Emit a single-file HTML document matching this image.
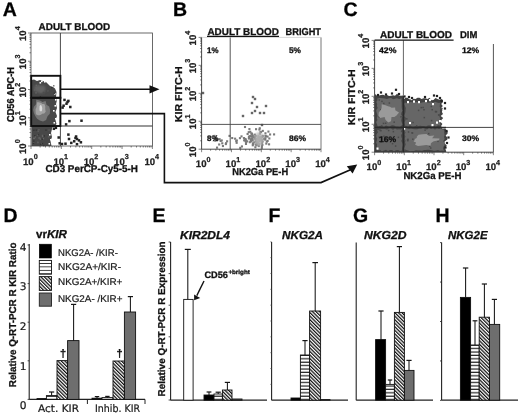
<!DOCTYPE html>
<html><head><meta charset="utf-8"><title>Figure</title>
<style>html,body{margin:0;padding:0;background:#fff}svg{display:block}text{text-rendering:geometricPrecision}</style></head>
<body>
<svg width="520" height="415" viewBox="0 0 520 415" font-family='"Liberation Sans", Arial, sans-serif'>
<defs>
<filter id="b1" x="-20%" y="-20%" width="140%" height="140%"><feGaussianBlur stdDeviation="0.9"/></filter>
<filter id="b2" x="-20%" y="-20%" width="140%" height="140%"><feGaussianBlur stdDeviation="0.5"/></filter>
<pattern id="hat" width="2.5" height="2.5" patternUnits="userSpaceOnUse" patternTransform="rotate(-45)"><rect width="2.5" height="2.5" fill="#fff"/><rect width="1.25" height="2.5" fill="#111"/></pattern>
<pattern id="str" x="0" y="400.2" width="3" height="3.4" patternUnits="userSpaceOnUse"><rect width="3" height="3.4" fill="#fff"/><rect y="2.2" width="3" height="1.2" fill="#222"/></pattern>
<pattern id="str2" x="0" y="260.4" width="3" height="3.45" patternUnits="userSpaceOnUse"><rect width="3" height="3.45" fill="#fff"/><rect y="2.6" width="3" height="0.95" fill="#222"/></pattern>
</defs>
<rect width="520" height="415" fill="#fff"/>
<text x="2.8" y="16.2" font-size="19.5" font-weight="bold" text-anchor="start" fill="#000" stroke="#111" stroke-width="0.3" >A</text>
<text x="173" y="16.2" font-size="19.5" font-weight="bold" text-anchor="start" fill="#000" stroke="#111" stroke-width="0.3" >B</text>
<text x="343.5" y="16.4" font-size="19.5" font-weight="bold" text-anchor="start" fill="#000" stroke="#111" stroke-width="0.3" >C</text>
<text x="3.5" y="221.5" font-size="19.5" font-weight="bold" text-anchor="start" fill="#000" stroke="#111" stroke-width="0.3" >D</text>
<text x="152.6" y="221.5" font-size="19.5" font-weight="bold" text-anchor="start" fill="#000" stroke="#111" stroke-width="0.3" >E</text>
<text x="268.4" y="221.5" font-size="19.5" font-weight="bold" text-anchor="start" fill="#000" stroke="#111" stroke-width="0.3" >F</text>
<text x="353" y="221.5" font-size="19.5" font-weight="bold" text-anchor="start" fill="#000" stroke="#111" stroke-width="0.3" >G</text>
<text x="435.5" y="221.5" font-size="19.5" font-weight="bold" text-anchor="start" fill="#000" stroke="#111" stroke-width="0.3" >H</text>
<g>
<polygon points="31.5,146 31.5,80 34,79.5 37,81 40,80 43,81 46,82 48,84 50,86 53,87 55,88.5 56.5,92 56,97 57,100 56,104 57,108 55.5,112 57,116 55.5,120 56.5,124 54,127 52,129 51,133 52,137 50.5,141 51.5,146" fill="#484848"/>
<rect x="41.00" y="80.50" width="1.60" height="1.60" fill="#fff" stroke="none" stroke-width="1" />
<rect x="44.00" y="81.00" width="1.60" height="1.60" fill="#fff" stroke="none" stroke-width="1" />
<rect x="39.50" y="82.00" width="1.60" height="1.60" fill="#fff" stroke="none" stroke-width="1" />
<rect x="55.00" y="99.00" width="1.60" height="1.60" fill="#fff" stroke="none" stroke-width="1" />
<rect x="54.50" y="105.00" width="1.60" height="1.60" fill="#fff" stroke="none" stroke-width="1" />
<rect x="53.00" y="110.00" width="1.60" height="1.60" fill="#fff" stroke="none" stroke-width="1" />
<rect x="55.00" y="118.00" width="1.60" height="1.60" fill="#fff" stroke="none" stroke-width="1" />
<rect x="53.50" y="122.00" width="1.60" height="1.60" fill="#fff" stroke="none" stroke-width="1" />
<rect x="52.00" y="127.50" width="1.60" height="1.60" fill="#fff" stroke="none" stroke-width="1" />
<rect x="49.00" y="134.00" width="1.60" height="1.60" fill="#fff" stroke="none" stroke-width="1" />
<rect x="50.00" y="139.00" width="1.60" height="1.60" fill="#fff" stroke="none" stroke-width="1" />
<rect x="48.50" y="143.00" width="1.60" height="1.60" fill="#fff" stroke="none" stroke-width="1" />
<rect x="54.00" y="93.00" width="1.60" height="1.60" fill="#fff" stroke="none" stroke-width="1" />
<rect x="37.51" y="130.56" width="1.40" height="1.40" fill="#5c5c5c" stroke="none" stroke-width="1" />
<rect x="32.82" y="141.96" width="1.40" height="1.40" fill="#666" stroke="none" stroke-width="1" />
<rect x="38.22" y="128.99" width="1.40" height="1.40" fill="#5c5c5c" stroke="none" stroke-width="1" />
<rect x="35.65" y="129.46" width="1.40" height="1.40" fill="#333" stroke="none" stroke-width="1" />
<rect x="33.19" y="129.54" width="1.40" height="1.40" fill="#333" stroke="none" stroke-width="1" />
<rect x="33.00" y="137.61" width="1.40" height="1.40" fill="#666" stroke="none" stroke-width="1" />
<rect x="42.72" y="137.91" width="1.40" height="1.40" fill="#666" stroke="none" stroke-width="1" />
<rect x="41.81" y="134.74" width="1.40" height="1.40" fill="#666" stroke="none" stroke-width="1" />
<rect x="32.79" y="142.59" width="1.40" height="1.40" fill="#333" stroke="none" stroke-width="1" />
<rect x="39.13" y="137.19" width="1.40" height="1.40" fill="#5c5c5c" stroke="none" stroke-width="1" />
<rect x="37.24" y="141.87" width="1.40" height="1.40" fill="#666" stroke="none" stroke-width="1" />
<rect x="33.75" y="137.71" width="1.40" height="1.40" fill="#666" stroke="none" stroke-width="1" />
<rect x="38.33" y="137.31" width="1.40" height="1.40" fill="#666" stroke="none" stroke-width="1" />
<rect x="41.59" y="138.52" width="1.40" height="1.40" fill="#333" stroke="none" stroke-width="1" />
<rect x="43.57" y="135.27" width="1.40" height="1.40" fill="#333" stroke="none" stroke-width="1" />
<rect x="39.92" y="143.70" width="1.40" height="1.40" fill="#333" stroke="none" stroke-width="1" />
<rect x="37.10" y="141.50" width="1.40" height="1.40" fill="#5c5c5c" stroke="none" stroke-width="1" />
<rect x="45.26" y="129.39" width="1.40" height="1.40" fill="#333" stroke="none" stroke-width="1" />
<rect x="40.93" y="142.88" width="1.40" height="1.40" fill="#5c5c5c" stroke="none" stroke-width="1" />
<rect x="39.63" y="138.35" width="1.40" height="1.40" fill="#666" stroke="none" stroke-width="1" />
<rect x="34.01" y="135.11" width="1.40" height="1.40" fill="#333" stroke="none" stroke-width="1" />
<rect x="34.58" y="136.31" width="1.40" height="1.40" fill="#666" stroke="none" stroke-width="1" />
<rect x="48.35" y="129.32" width="1.40" height="1.40" fill="#5c5c5c" stroke="none" stroke-width="1" />
<rect x="41.74" y="142.88" width="1.40" height="1.40" fill="#333" stroke="none" stroke-width="1" />
<rect x="37.78" y="133.95" width="1.40" height="1.40" fill="#333" stroke="none" stroke-width="1" />
<rect x="41.86" y="135.76" width="1.40" height="1.40" fill="#666" stroke="none" stroke-width="1" />
<rect x="48.06" y="136.06" width="1.40" height="1.40" fill="#5c5c5c" stroke="none" stroke-width="1" />
<rect x="33.10" y="140.43" width="1.40" height="1.40" fill="#333" stroke="none" stroke-width="1" />
<rect x="43.00" y="144.88" width="1.40" height="1.40" fill="#333" stroke="none" stroke-width="1" />
<rect x="36.84" y="134.56" width="1.40" height="1.40" fill="#5c5c5c" stroke="none" stroke-width="1" />
<rect x="39.63" y="96.17" width="1.40" height="1.40" fill="#333" stroke="none" stroke-width="1" />
<rect x="35.70" y="84.64" width="1.40" height="1.40" fill="#666" stroke="none" stroke-width="1" />
<rect x="36.80" y="87.02" width="1.40" height="1.40" fill="#5c5c5c" stroke="none" stroke-width="1" />
<rect x="37.45" y="88.47" width="1.40" height="1.40" fill="#333" stroke="none" stroke-width="1" />
<rect x="33.77" y="89.29" width="1.40" height="1.40" fill="#5c5c5c" stroke="none" stroke-width="1" />
<rect x="38.11" y="84.92" width="1.40" height="1.40" fill="#333" stroke="none" stroke-width="1" />
<rect x="51.01" y="86.90" width="1.40" height="1.40" fill="#333" stroke="none" stroke-width="1" />
<rect x="53.70" y="92.56" width="1.40" height="1.40" fill="#333" stroke="none" stroke-width="1" />
<rect x="53.07" y="85.11" width="1.40" height="1.40" fill="#666" stroke="none" stroke-width="1" />
<rect x="35.33" y="92.22" width="1.40" height="1.40" fill="#666" stroke="none" stroke-width="1" />
<rect x="42.67" y="91.25" width="1.40" height="1.40" fill="#333" stroke="none" stroke-width="1" />
<rect x="38.20" y="85.04" width="1.40" height="1.40" fill="#5c5c5c" stroke="none" stroke-width="1" />
<rect x="40.12" y="90.93" width="1.40" height="1.40" fill="#666" stroke="none" stroke-width="1" />
<rect x="47.19" y="90.22" width="1.40" height="1.40" fill="#5c5c5c" stroke="none" stroke-width="1" />
<path d="M50.1,110.0 L49.8,113.7 L47.5,116.2 L46.1,119.9 L43.0,121.6 L39.8,120.4 L37.1,118.7 L35.3,116.0 L34.0,113.2 L33.2,110.0 L33.9,106.8 L35.9,104.6 L36.3,99.7 L39.9,100.6 L42.5,102.0 L45.6,101.1 L46.5,104.8 L49.2,106.5Z" fill="#767676" filter="url(#b2)"/>
<path d="M45.2,109.0 L45.7,111.8 L44.2,113.6 L42.2,113.8 L41.0,114.8 L39.5,115.3 L37.8,115.2 L35.9,114.2 L35.6,111.4 L35.6,109.0 L36.6,107.1 L36.6,104.7 L37.4,101.9 L39.5,102.4 L41.1,102.9 L42.3,104.0 L44.4,104.1 L45.3,106.4Z" fill="#a2a2a2" filter="url(#b2)"/>
<path d="M42.2,108.5 L42.0,110.5 L41.2,111.6 L40.4,111.3 L39.5,110.6 L39.5,108.5 L39.6,106.5 L40.3,105.1 L41.3,105.2 L41.9,106.7Z" fill="#dcdcdc" filter="url(#b2)"/>
<path d="M46.4,89.0 L44.6,90.1 L45.3,92.0 L43.0,92.5 L41.2,93.6 L39.0,92.7 L37.4,92.0 L35.3,91.6 L34.4,90.4 L33.6,89.0 L34.1,87.6 L34.8,86.1 L36.7,85.1 L39.1,85.6 L40.9,85.5 L42.9,85.7 L45.2,86.1 L44.9,87.8Z" fill="#626262" filter="url(#b1)"/>
</g>
<rect x="63.25" y="98.65" width="2.50" height="2.50" fill="#222" stroke="none" stroke-width="1" />
<rect x="67.15" y="99.65" width="2.50" height="2.50" fill="#222" stroke="none" stroke-width="1" />
<rect x="65.25" y="102.45" width="2.50" height="2.50" fill="#222" stroke="none" stroke-width="1" />
<rect x="62.35" y="104.45" width="2.50" height="2.50" fill="#222" stroke="none" stroke-width="1" />
<rect x="61.35" y="106.35" width="2.50" height="2.50" fill="#222" stroke="none" stroke-width="1" />
<rect x="69.05" y="105.75" width="2.50" height="2.50" fill="#222" stroke="none" stroke-width="1" />
<rect x="68.15" y="119.85" width="2.50" height="2.50" fill="#222" stroke="none" stroke-width="1" />
<rect x="80.25" y="119.45" width="2.50" height="2.50" fill="#222" stroke="none" stroke-width="1" />
<rect x="64.85" y="123.15" width="2.50" height="2.50" fill="#222" stroke="none" stroke-width="1" />
<rect x="67.15" y="133.35" width="2.50" height="2.50" fill="#222" stroke="none" stroke-width="1" />
<rect x="67.75" y="137.75" width="2.50" height="2.50" fill="#222" stroke="none" stroke-width="1" />
<rect x="74.85" y="135.25" width="2.50" height="2.50" fill="#222" stroke="none" stroke-width="1" />
<rect x="75.75" y="137.75" width="2.50" height="2.50" fill="#222" stroke="none" stroke-width="1" />
<rect x="77.75" y="139.15" width="2.50" height="2.50" fill="#222" stroke="none" stroke-width="1" />
<rect x="72.95" y="140.05" width="2.50" height="2.50" fill="#222" stroke="none" stroke-width="1" />
<rect x="70.05" y="141.65" width="2.50" height="2.50" fill="#222" stroke="none" stroke-width="1" />
<rect x="64.25" y="142.45" width="2.50" height="2.50" fill="#222" stroke="none" stroke-width="1" />
<rect x="58.45" y="142.05" width="2.50" height="2.50" fill="#222" stroke="none" stroke-width="1" />
<rect x="57.45" y="136.25" width="2.50" height="2.50" fill="#222" stroke="none" stroke-width="1" />
<rect x="79.65" y="141.05" width="2.50" height="2.50" fill="#222" stroke="none" stroke-width="1" />
<rect x="75.75" y="142.95" width="2.50" height="2.50" fill="#222" stroke="none" stroke-width="1" />
<rect x="54.65" y="126.55" width="2.50" height="2.50" fill="#222" stroke="none" stroke-width="1" />
<rect x="52.65" y="127.55" width="2.50" height="2.50" fill="#222" stroke="none" stroke-width="1" />
<rect x="66.25" y="100.75" width="2.50" height="2.50" fill="#222" stroke="none" stroke-width="1" />
<rect x="60.75" y="142.75" width="2.50" height="2.50" fill="#222" stroke="none" stroke-width="1" />
<rect x="74.25" y="136.75" width="2.50" height="2.50" fill="#222" stroke="none" stroke-width="1" />
<rect x="31.00" y="33.00" width="121.40" height="113.00" fill="none" stroke="#444" stroke-width="0.8" />
<line x1="60.4" y1="33" x2="60.4" y2="146" stroke="#333" stroke-width="0.9" />
<line x1="60" y1="126" x2="152.4" y2="126" stroke="#333" stroke-width="1.1" />
<rect x="31.20" y="75.80" width="29.20" height="22.00" fill="none" stroke="#111" stroke-width="1.9" />
<rect x="31.20" y="97.80" width="29.20" height="28.20" fill="none" stroke="#111" stroke-width="1.9" />
<line x1="60" y1="89.2" x2="151" y2="89.2" stroke="#111" stroke-width="1.6" />
<polygon points="149.5,85.2 159.5,89.3 149.5,93.4" fill="#111"/>
<polyline points="60,113.6 164.4,113.6 164.4,182.6 321,182.6 350.5,169.8" fill="none" stroke="#111" stroke-width="1.6"/>
<polygon points="346.8,166.2 357.2,164.6 352.6,173.4" fill="#111"/>
<line x1="31.00" y1="146" x2="31.00" y2="149" stroke="#333" stroke-width="0.6" />
<line x1="40.14" y1="146" x2="40.14" y2="147.5" stroke="#333" stroke-width="0.6" />
<line x1="45.48" y1="146" x2="45.48" y2="147.5" stroke="#333" stroke-width="0.6" />
<line x1="49.27" y1="146" x2="49.27" y2="147.5" stroke="#333" stroke-width="0.6" />
<line x1="52.21" y1="146" x2="52.21" y2="147.5" stroke="#333" stroke-width="0.6" />
<line x1="54.62" y1="146" x2="54.62" y2="147.5" stroke="#333" stroke-width="0.6" />
<line x1="56.65" y1="146" x2="56.65" y2="147.5" stroke="#333" stroke-width="0.6" />
<line x1="58.41" y1="146" x2="58.41" y2="147.5" stroke="#333" stroke-width="0.6" />
<line x1="59.96" y1="146" x2="59.96" y2="147.5" stroke="#333" stroke-width="0.6" />
<line x1="61.35" y1="146" x2="61.35" y2="149" stroke="#333" stroke-width="0.6" />
<line x1="70.49" y1="146" x2="70.49" y2="147.5" stroke="#333" stroke-width="0.6" />
<line x1="75.83" y1="146" x2="75.83" y2="147.5" stroke="#333" stroke-width="0.6" />
<line x1="79.62" y1="146" x2="79.62" y2="147.5" stroke="#333" stroke-width="0.6" />
<line x1="82.56" y1="146" x2="82.56" y2="147.5" stroke="#333" stroke-width="0.6" />
<line x1="84.97" y1="146" x2="84.97" y2="147.5" stroke="#333" stroke-width="0.6" />
<line x1="87.00" y1="146" x2="87.00" y2="147.5" stroke="#333" stroke-width="0.6" />
<line x1="88.76" y1="146" x2="88.76" y2="147.5" stroke="#333" stroke-width="0.6" />
<line x1="90.31" y1="146" x2="90.31" y2="147.5" stroke="#333" stroke-width="0.6" />
<line x1="91.70" y1="146" x2="91.70" y2="149" stroke="#333" stroke-width="0.6" />
<line x1="100.84" y1="146" x2="100.84" y2="147.5" stroke="#333" stroke-width="0.6" />
<line x1="106.18" y1="146" x2="106.18" y2="147.5" stroke="#333" stroke-width="0.6" />
<line x1="109.97" y1="146" x2="109.97" y2="147.5" stroke="#333" stroke-width="0.6" />
<line x1="112.91" y1="146" x2="112.91" y2="147.5" stroke="#333" stroke-width="0.6" />
<line x1="115.32" y1="146" x2="115.32" y2="147.5" stroke="#333" stroke-width="0.6" />
<line x1="117.35" y1="146" x2="117.35" y2="147.5" stroke="#333" stroke-width="0.6" />
<line x1="119.11" y1="146" x2="119.11" y2="147.5" stroke="#333" stroke-width="0.6" />
<line x1="120.66" y1="146" x2="120.66" y2="147.5" stroke="#333" stroke-width="0.6" />
<line x1="122.05" y1="146" x2="122.05" y2="149" stroke="#333" stroke-width="0.6" />
<line x1="131.19" y1="146" x2="131.19" y2="147.5" stroke="#333" stroke-width="0.6" />
<line x1="136.53" y1="146" x2="136.53" y2="147.5" stroke="#333" stroke-width="0.6" />
<line x1="140.32" y1="146" x2="140.32" y2="147.5" stroke="#333" stroke-width="0.6" />
<line x1="143.26" y1="146" x2="143.26" y2="147.5" stroke="#333" stroke-width="0.6" />
<line x1="145.67" y1="146" x2="145.67" y2="147.5" stroke="#333" stroke-width="0.6" />
<line x1="147.70" y1="146" x2="147.70" y2="147.5" stroke="#333" stroke-width="0.6" />
<line x1="149.46" y1="146" x2="149.46" y2="147.5" stroke="#333" stroke-width="0.6" />
<line x1="151.01" y1="146" x2="151.01" y2="147.5" stroke="#333" stroke-width="0.6" />
<line x1="152.4" y1="146" x2="152.4" y2="149" stroke="#333" stroke-width="0.6" />
<line x1="28" y1="146.00" x2="31" y2="146.00" stroke="#333" stroke-width="0.6" />
<line x1="29.5" y1="137.50" x2="31" y2="137.50" stroke="#333" stroke-width="0.6" />
<line x1="29.5" y1="132.52" x2="31" y2="132.52" stroke="#333" stroke-width="0.6" />
<line x1="29.5" y1="128.99" x2="31" y2="128.99" stroke="#333" stroke-width="0.6" />
<line x1="29.5" y1="126.25" x2="31" y2="126.25" stroke="#333" stroke-width="0.6" />
<line x1="29.5" y1="124.02" x2="31" y2="124.02" stroke="#333" stroke-width="0.6" />
<line x1="29.5" y1="122.13" x2="31" y2="122.13" stroke="#333" stroke-width="0.6" />
<line x1="29.5" y1="120.49" x2="31" y2="120.49" stroke="#333" stroke-width="0.6" />
<line x1="29.5" y1="119.04" x2="31" y2="119.04" stroke="#333" stroke-width="0.6" />
<line x1="28" y1="117.75" x2="31" y2="117.75" stroke="#333" stroke-width="0.6" />
<line x1="29.5" y1="109.25" x2="31" y2="109.25" stroke="#333" stroke-width="0.6" />
<line x1="29.5" y1="104.27" x2="31" y2="104.27" stroke="#333" stroke-width="0.6" />
<line x1="29.5" y1="100.74" x2="31" y2="100.74" stroke="#333" stroke-width="0.6" />
<line x1="29.5" y1="98.00" x2="31" y2="98.00" stroke="#333" stroke-width="0.6" />
<line x1="29.5" y1="95.77" x2="31" y2="95.77" stroke="#333" stroke-width="0.6" />
<line x1="29.5" y1="93.88" x2="31" y2="93.88" stroke="#333" stroke-width="0.6" />
<line x1="29.5" y1="92.24" x2="31" y2="92.24" stroke="#333" stroke-width="0.6" />
<line x1="29.5" y1="90.79" x2="31" y2="90.79" stroke="#333" stroke-width="0.6" />
<line x1="28" y1="89.50" x2="31" y2="89.50" stroke="#333" stroke-width="0.6" />
<line x1="29.5" y1="81.00" x2="31" y2="81.00" stroke="#333" stroke-width="0.6" />
<line x1="29.5" y1="76.02" x2="31" y2="76.02" stroke="#333" stroke-width="0.6" />
<line x1="29.5" y1="72.49" x2="31" y2="72.49" stroke="#333" stroke-width="0.6" />
<line x1="29.5" y1="69.75" x2="31" y2="69.75" stroke="#333" stroke-width="0.6" />
<line x1="29.5" y1="67.52" x2="31" y2="67.52" stroke="#333" stroke-width="0.6" />
<line x1="29.5" y1="65.63" x2="31" y2="65.63" stroke="#333" stroke-width="0.6" />
<line x1="29.5" y1="63.99" x2="31" y2="63.99" stroke="#333" stroke-width="0.6" />
<line x1="29.5" y1="62.54" x2="31" y2="62.54" stroke="#333" stroke-width="0.6" />
<line x1="28" y1="61.25" x2="31" y2="61.25" stroke="#333" stroke-width="0.6" />
<line x1="29.5" y1="52.75" x2="31" y2="52.75" stroke="#333" stroke-width="0.6" />
<line x1="29.5" y1="47.77" x2="31" y2="47.77" stroke="#333" stroke-width="0.6" />
<line x1="29.5" y1="44.24" x2="31" y2="44.24" stroke="#333" stroke-width="0.6" />
<line x1="29.5" y1="41.50" x2="31" y2="41.50" stroke="#333" stroke-width="0.6" />
<line x1="29.5" y1="39.27" x2="31" y2="39.27" stroke="#333" stroke-width="0.6" />
<line x1="29.5" y1="37.38" x2="31" y2="37.38" stroke="#333" stroke-width="0.6" />
<line x1="29.5" y1="35.74" x2="31" y2="35.74" stroke="#333" stroke-width="0.6" />
<line x1="29.5" y1="34.29" x2="31" y2="34.29" stroke="#333" stroke-width="0.6" />
<line x1="28" y1="33.0" x2="31" y2="33.0" stroke="#333" stroke-width="0.6" />
<text x="38.6" y="30.2" font-size="10" font-weight="bold" text-anchor="start" fill="#111" textLength="71.5" lengthAdjust="spacingAndGlyphs" stroke="#111" stroke-width="0.3" >ADULT BLOOD</text>
<text x="23.0" y="164.6" font-size="9.6" font-weight="bold" fill="#222" stroke="#222" stroke-width="0.25">10<tspan dy="-5.4" font-size="7.2">0</tspan></text>
<text x="53.4" y="164.6" font-size="9.6" font-weight="bold" fill="#222" stroke="#222" stroke-width="0.25">10<tspan dy="-5.4" font-size="7.2">1</tspan></text>
<text x="83.7" y="164.6" font-size="9.6" font-weight="bold" fill="#222" stroke="#222" stroke-width="0.25">10<tspan dy="-5.4" font-size="7.2">2</tspan></text>
<text x="114.1" y="164.6" font-size="9.6" font-weight="bold" fill="#222" stroke="#222" stroke-width="0.25">10<tspan dy="-5.4" font-size="7.2">3</tspan></text>
<text x="144.4" y="164.6" font-size="9.6" font-weight="bold" fill="#222" stroke="#222" stroke-width="0.25">10<tspan dy="-5.4" font-size="7.2">4</tspan></text>
<text x="25.8" y="154.0" font-size="9.6" font-weight="bold" fill="#222" stroke="#222" stroke-width="0.25" transform="rotate(-90 25.8 154.0)">10<tspan dy="-5.4" font-size="7.2">0</tspan></text>
<text x="25.8" y="125.8" font-size="9.6" font-weight="bold" fill="#222" stroke="#222" stroke-width="0.25" transform="rotate(-90 25.8 125.8)">10<tspan dy="-5.4" font-size="7.2">1</tspan></text>
<text x="25.8" y="97.5" font-size="9.6" font-weight="bold" fill="#222" stroke="#222" stroke-width="0.25" transform="rotate(-90 25.8 97.5)">10<tspan dy="-5.4" font-size="7.2">2</tspan></text>
<text x="25.8" y="69.2" font-size="9.6" font-weight="bold" fill="#222" stroke="#222" stroke-width="0.25" transform="rotate(-90 25.8 69.2)">10<tspan dy="-5.4" font-size="7.2">3</tspan></text>
<text x="25.8" y="41.0" font-size="9.6" font-weight="bold" fill="#222" stroke="#222" stroke-width="0.25" transform="rotate(-90 25.8 41.0)">10<tspan dy="-5.4" font-size="7.2">4</tspan></text>
<text x="45.4" y="172.4" font-size="10" font-weight="bold" text-anchor="start" fill="#111" textLength="92.6" lengthAdjust="spacingAndGlyphs" stroke="#111" stroke-width="0.3" >CD3 PerCP-Cy5-5-H</text>
<text x="13.9" y="122" font-size="10" font-weight="bold" text-anchor="start" fill="#111" textLength="55" lengthAdjust="spacingAndGlyphs" transform="rotate(-90 13.9 122)" stroke="#111" stroke-width="0.3" >CD56 APC-H</text>
<rect x="244.62" y="138.29" width="2.10" height="2.10" fill="#7a7a7a" stroke="none" stroke-width="1" />
<rect x="268.29" y="137.42" width="2.10" height="2.10" fill="#7a7a7a" stroke="none" stroke-width="1" />
<rect x="251.43" y="138.47" width="2.10" height="2.10" fill="#7a7a7a" stroke="none" stroke-width="1" />
<rect x="250.87" y="135.36" width="2.10" height="2.10" fill="#7a7a7a" stroke="none" stroke-width="1" />
<rect x="259.99" y="131.07" width="2.10" height="2.10" fill="#7a7a7a" stroke="none" stroke-width="1" />
<rect x="258.79" y="138.99" width="2.10" height="2.10" fill="#7a7a7a" stroke="none" stroke-width="1" />
<rect x="249.71" y="138.73" width="2.10" height="2.10" fill="#7a7a7a" stroke="none" stroke-width="1" />
<rect x="235.74" y="139.40" width="2.10" height="2.10" fill="#7a7a7a" stroke="none" stroke-width="1" />
<rect x="255.62" y="137.77" width="2.10" height="2.10" fill="#7a7a7a" stroke="none" stroke-width="1" />
<rect x="261.36" y="135.67" width="2.10" height="2.10" fill="#7a7a7a" stroke="none" stroke-width="1" />
<rect x="247.69" y="131.12" width="2.10" height="2.10" fill="#7a7a7a" stroke="none" stroke-width="1" />
<rect x="261.01" y="141.07" width="2.10" height="2.10" fill="#7a7a7a" stroke="none" stroke-width="1" />
<rect x="254.83" y="134.97" width="2.10" height="2.10" fill="#7a7a7a" stroke="none" stroke-width="1" />
<rect x="261.67" y="134.80" width="2.10" height="2.10" fill="#7a7a7a" stroke="none" stroke-width="1" />
<rect x="253.99" y="136.47" width="2.10" height="2.10" fill="#7a7a7a" stroke="none" stroke-width="1" />
<rect x="266.51" y="135.51" width="2.10" height="2.10" fill="#7a7a7a" stroke="none" stroke-width="1" />
<rect x="244.71" y="139.69" width="2.10" height="2.10" fill="#7a7a7a" stroke="none" stroke-width="1" />
<rect x="259.50" y="139.33" width="2.10" height="2.10" fill="#7a7a7a" stroke="none" stroke-width="1" />
<rect x="257.60" y="137.90" width="2.10" height="2.10" fill="#7a7a7a" stroke="none" stroke-width="1" />
<rect x="249.36" y="135.17" width="2.10" height="2.10" fill="#7a7a7a" stroke="none" stroke-width="1" />
<rect x="250.58" y="132.70" width="2.10" height="2.10" fill="#7a7a7a" stroke="none" stroke-width="1" />
<rect x="249.41" y="134.99" width="2.10" height="2.10" fill="#7a7a7a" stroke="none" stroke-width="1" />
<rect x="259.72" y="136.92" width="2.10" height="2.10" fill="#7a7a7a" stroke="none" stroke-width="1" />
<rect x="254.56" y="137.66" width="2.10" height="2.10" fill="#7a7a7a" stroke="none" stroke-width="1" />
<rect x="259.39" y="130.90" width="2.10" height="2.10" fill="#7a7a7a" stroke="none" stroke-width="1" />
<rect x="265.25" y="142.56" width="2.10" height="2.10" fill="#7a7a7a" stroke="none" stroke-width="1" />
<rect x="260.79" y="146.75" width="2.10" height="2.10" fill="#7a7a7a" stroke="none" stroke-width="1" />
<rect x="260.72" y="138.51" width="2.10" height="2.10" fill="#7a7a7a" stroke="none" stroke-width="1" />
<rect x="244.06" y="137.89" width="2.10" height="2.10" fill="#7a7a7a" stroke="none" stroke-width="1" />
<rect x="251.92" y="143.07" width="2.10" height="2.10" fill="#7a7a7a" stroke="none" stroke-width="1" />
<rect x="257.20" y="136.54" width="2.10" height="2.10" fill="#7a7a7a" stroke="none" stroke-width="1" />
<rect x="255.00" y="128.15" width="2.10" height="2.10" fill="#7a7a7a" stroke="none" stroke-width="1" />
<rect x="249.23" y="130.74" width="2.10" height="2.10" fill="#7a7a7a" stroke="none" stroke-width="1" />
<rect x="242.91" y="137.04" width="2.10" height="2.10" fill="#7a7a7a" stroke="none" stroke-width="1" />
<rect x="258.62" y="136.26" width="2.10" height="2.10" fill="#7a7a7a" stroke="none" stroke-width="1" />
<rect x="260.79" y="142.44" width="2.10" height="2.10" fill="#7a7a7a" stroke="none" stroke-width="1" />
<rect x="264.40" y="132.24" width="2.10" height="2.10" fill="#7a7a7a" stroke="none" stroke-width="1" />
<rect x="246.55" y="132.93" width="2.10" height="2.10" fill="#7a7a7a" stroke="none" stroke-width="1" />
<rect x="258.23" y="140.00" width="2.10" height="2.10" fill="#7a7a7a" stroke="none" stroke-width="1" />
<rect x="253.35" y="136.37" width="2.10" height="2.10" fill="#7a7a7a" stroke="none" stroke-width="1" />
<rect x="265.76" y="140.59" width="2.10" height="2.10" fill="#7a7a7a" stroke="none" stroke-width="1" />
<rect x="248.06" y="136.94" width="2.10" height="2.10" fill="#7a7a7a" stroke="none" stroke-width="1" />
<rect x="258.35" y="128.55" width="2.10" height="2.10" fill="#7a7a7a" stroke="none" stroke-width="1" />
<rect x="260.22" y="139.00" width="2.10" height="2.10" fill="#7a7a7a" stroke="none" stroke-width="1" />
<rect x="259.01" y="138.50" width="2.10" height="2.10" fill="#7a7a7a" stroke="none" stroke-width="1" />
<rect x="254.36" y="138.27" width="2.10" height="2.10" fill="#7a7a7a" stroke="none" stroke-width="1" />
<rect x="257.94" y="136.92" width="2.10" height="2.10" fill="#7a7a7a" stroke="none" stroke-width="1" />
<rect x="252.28" y="136.05" width="2.10" height="2.10" fill="#7a7a7a" stroke="none" stroke-width="1" />
<rect x="254.53" y="143.35" width="2.10" height="2.10" fill="#7a7a7a" stroke="none" stroke-width="1" />
<rect x="258.89" y="132.83" width="2.10" height="2.10" fill="#7a7a7a" stroke="none" stroke-width="1" />
<rect x="256.08" y="143.55" width="2.10" height="2.10" fill="#7a7a7a" stroke="none" stroke-width="1" />
<rect x="267.37" y="130.54" width="2.10" height="2.10" fill="#7a7a7a" stroke="none" stroke-width="1" />
<rect x="269.03" y="133.42" width="2.10" height="2.10" fill="#7a7a7a" stroke="none" stroke-width="1" />
<rect x="258.19" y="142.74" width="2.10" height="2.10" fill="#7a7a7a" stroke="none" stroke-width="1" />
<rect x="249.90" y="140.25" width="2.10" height="2.10" fill="#7a7a7a" stroke="none" stroke-width="1" />
<rect x="251.74" y="144.23" width="2.10" height="2.10" fill="#7a7a7a" stroke="none" stroke-width="1" />
<rect x="251.59" y="139.33" width="2.10" height="2.10" fill="#7a7a7a" stroke="none" stroke-width="1" />
<rect x="254.79" y="140.17" width="2.10" height="2.10" fill="#7a7a7a" stroke="none" stroke-width="1" />
<rect x="258.74" y="127.21" width="2.10" height="2.10" fill="#7a7a7a" stroke="none" stroke-width="1" />
<rect x="251.80" y="134.51" width="2.10" height="2.10" fill="#7a7a7a" stroke="none" stroke-width="1" />
<rect x="255.88" y="140.45" width="2.10" height="2.10" fill="#7a7a7a" stroke="none" stroke-width="1" />
<rect x="244.59" y="139.48" width="2.10" height="2.10" fill="#7a7a7a" stroke="none" stroke-width="1" />
<rect x="268.03" y="143.28" width="2.10" height="2.10" fill="#7a7a7a" stroke="none" stroke-width="1" />
<rect x="261.36" y="143.78" width="2.10" height="2.10" fill="#7a7a7a" stroke="none" stroke-width="1" />
<rect x="257.75" y="145.05" width="2.10" height="2.10" fill="#7a7a7a" stroke="none" stroke-width="1" />
<rect x="263.06" y="137.78" width="2.10" height="2.10" fill="#7a7a7a" stroke="none" stroke-width="1" />
<rect x="250.16" y="140.00" width="2.10" height="2.10" fill="#7a7a7a" stroke="none" stroke-width="1" />
<rect x="261.54" y="140.35" width="2.10" height="2.10" fill="#7a7a7a" stroke="none" stroke-width="1" />
<rect x="251.88" y="142.29" width="2.10" height="2.10" fill="#7a7a7a" stroke="none" stroke-width="1" />
<rect x="253.95" y="133.61" width="2.10" height="2.10" fill="#7a7a7a" stroke="none" stroke-width="1" />
<rect x="250.13" y="137.53" width="2.10" height="2.10" fill="#7a7a7a" stroke="none" stroke-width="1" />
<rect x="259.27" y="137.40" width="2.10" height="2.10" fill="#7a7a7a" stroke="none" stroke-width="1" />
<rect x="260.35" y="136.33" width="2.10" height="2.10" fill="#7a7a7a" stroke="none" stroke-width="1" />
<rect x="258.04" y="136.60" width="2.10" height="2.10" fill="#7a7a7a" stroke="none" stroke-width="1" />
<rect x="260.85" y="144.97" width="2.10" height="2.10" fill="#7a7a7a" stroke="none" stroke-width="1" />
<rect x="261.73" y="129.84" width="2.10" height="2.10" fill="#7a7a7a" stroke="none" stroke-width="1" />
<rect x="248.36" y="128.02" width="2.10" height="2.10" fill="#7a7a7a" stroke="none" stroke-width="1" />
<rect x="248.74" y="141.13" width="2.10" height="2.10" fill="#7a7a7a" stroke="none" stroke-width="1" />
<rect x="247.81" y="137.45" width="2.10" height="2.10" fill="#7a7a7a" stroke="none" stroke-width="1" />
<rect x="253.31" y="141.24" width="2.10" height="2.10" fill="#7a7a7a" stroke="none" stroke-width="1" />
<rect x="257.32" y="135.16" width="2.10" height="2.10" fill="#7a7a7a" stroke="none" stroke-width="1" />
<rect x="260.33" y="135.72" width="2.10" height="2.10" fill="#7a7a7a" stroke="none" stroke-width="1" />
<rect x="258.95" y="138.16" width="2.10" height="2.10" fill="#7a7a7a" stroke="none" stroke-width="1" />
<rect x="255.32" y="144.23" width="2.10" height="2.10" fill="#7a7a7a" stroke="none" stroke-width="1" />
<rect x="256.90" y="141.50" width="2.10" height="2.10" fill="#7a7a7a" stroke="none" stroke-width="1" />
<rect x="256.72" y="138.44" width="2.10" height="2.10" fill="#7a7a7a" stroke="none" stroke-width="1" />
<rect x="263.23" y="137.78" width="2.10" height="2.10" fill="#7a7a7a" stroke="none" stroke-width="1" />
<rect x="264.36" y="134.70" width="2.10" height="2.10" fill="#7a7a7a" stroke="none" stroke-width="1" />
<rect x="266.55" y="139.89" width="2.10" height="2.10" fill="#7a7a7a" stroke="none" stroke-width="1" />
<rect x="273.04" y="133.35" width="2.10" height="2.10" fill="#7a7a7a" stroke="none" stroke-width="1" />
<rect x="255.62" y="140.85" width="2.10" height="2.10" fill="#7a7a7a" stroke="none" stroke-width="1" />
<rect x="264.92" y="135.28" width="2.10" height="2.10" fill="#7a7a7a" stroke="none" stroke-width="1" />
<rect x="251.29" y="137.34" width="2.10" height="2.10" fill="#7a7a7a" stroke="none" stroke-width="1" />
<rect x="246.10" y="140.25" width="2.10" height="2.10" fill="#7a7a7a" stroke="none" stroke-width="1" />
<rect x="254.33" y="146.18" width="2.10" height="2.10" fill="#7a7a7a" stroke="none" stroke-width="1" />
<rect x="257.87" y="137.91" width="2.10" height="2.10" fill="#7a7a7a" stroke="none" stroke-width="1" />
<rect x="264.20" y="138.58" width="2.10" height="2.10" fill="#7a7a7a" stroke="none" stroke-width="1" />
<rect x="264.28" y="137.19" width="2.10" height="2.10" fill="#7a7a7a" stroke="none" stroke-width="1" />
<rect x="256.16" y="142.96" width="2.10" height="2.10" fill="#7a7a7a" stroke="none" stroke-width="1" />
<rect x="250.42" y="132.36" width="2.10" height="2.10" fill="#7a7a7a" stroke="none" stroke-width="1" />
<rect x="251.08" y="133.14" width="2.10" height="2.10" fill="#7a7a7a" stroke="none" stroke-width="1" />
<rect x="244.94" y="142.90" width="2.10" height="2.10" fill="#7a7a7a" stroke="none" stroke-width="1" />
<rect x="220.70" y="139.39" width="2.10" height="2.10" fill="#7a7a7a" stroke="none" stroke-width="1" />
<rect x="221.21" y="142.25" width="2.10" height="2.10" fill="#7a7a7a" stroke="none" stroke-width="1" />
<rect x="239.19" y="146.81" width="2.10" height="2.10" fill="#7a7a7a" stroke="none" stroke-width="1" />
<rect x="243.08" y="139.29" width="2.10" height="2.10" fill="#7a7a7a" stroke="none" stroke-width="1" />
<rect x="213.46" y="134.87" width="2.10" height="2.10" fill="#7a7a7a" stroke="none" stroke-width="1" />
<rect x="228.46" y="134.84" width="2.10" height="2.10" fill="#7a7a7a" stroke="none" stroke-width="1" />
<rect x="214.94" y="138.21" width="2.10" height="2.10" fill="#7a7a7a" stroke="none" stroke-width="1" />
<rect x="231.16" y="137.00" width="2.10" height="2.10" fill="#7a7a7a" stroke="none" stroke-width="1" />
<rect x="247.90" y="135.58" width="2.10" height="2.10" fill="#7a7a7a" stroke="none" stroke-width="1" />
<rect x="214.58" y="136.82" width="2.10" height="2.10" fill="#7a7a7a" stroke="none" stroke-width="1" />
<rect x="219.62" y="139.91" width="2.10" height="2.10" fill="#7a7a7a" stroke="none" stroke-width="1" />
<rect x="226.06" y="140.25" width="2.10" height="2.10" fill="#7a7a7a" stroke="none" stroke-width="1" />
<rect x="224.79" y="143.03" width="2.10" height="2.10" fill="#7a7a7a" stroke="none" stroke-width="1" />
<rect x="214.19" y="139.66" width="2.10" height="2.10" fill="#7a7a7a" stroke="none" stroke-width="1" />
<rect x="244.72" y="140.40" width="2.10" height="2.10" fill="#7a7a7a" stroke="none" stroke-width="1" />
<rect x="225.02" y="142.13" width="2.10" height="2.10" fill="#7a7a7a" stroke="none" stroke-width="1" />
<rect x="215.97" y="139.03" width="2.10" height="2.10" fill="#7a7a7a" stroke="none" stroke-width="1" />
<rect x="221.88" y="144.98" width="2.10" height="2.10" fill="#7a7a7a" stroke="none" stroke-width="1" />
<rect x="240.89" y="145.38" width="2.10" height="2.10" fill="#7a7a7a" stroke="none" stroke-width="1" />
<rect x="218.13" y="143.44" width="2.10" height="2.10" fill="#7a7a7a" stroke="none" stroke-width="1" />
<rect x="234.07" y="137.63" width="2.10" height="2.10" fill="#7a7a7a" stroke="none" stroke-width="1" />
<rect x="235.62" y="141.78" width="2.10" height="2.10" fill="#7a7a7a" stroke="none" stroke-width="1" />
<rect x="215.99" y="146.57" width="2.10" height="2.10" fill="#7a7a7a" stroke="none" stroke-width="1" />
<rect x="218.54" y="138.15" width="2.10" height="2.10" fill="#7a7a7a" stroke="none" stroke-width="1" />
<rect x="245.09" y="140.95" width="2.10" height="2.10" fill="#7a7a7a" stroke="none" stroke-width="1" />
<rect x="240.47" y="135.34" width="2.10" height="2.10" fill="#7a7a7a" stroke="none" stroke-width="1" />
<rect x="238.89" y="137.09" width="2.10" height="2.10" fill="#7a7a7a" stroke="none" stroke-width="1" />
<rect x="235.22" y="140.05" width="2.10" height="2.10" fill="#7a7a7a" stroke="none" stroke-width="1" />
<rect x="251.80" y="95.80" width="2.40" height="2.40" fill="#666" stroke="none" stroke-width="1" />
<rect x="253.80" y="97.80" width="2.40" height="2.40" fill="#666" stroke="none" stroke-width="1" />
<rect x="250.80" y="101.80" width="2.40" height="2.40" fill="#666" stroke="none" stroke-width="1" />
<rect x="255.80" y="105.80" width="2.40" height="2.40" fill="#666" stroke="none" stroke-width="1" />
<rect x="253.80" y="109.80" width="2.40" height="2.40" fill="#666" stroke="none" stroke-width="1" />
<rect x="264.80" y="104.80" width="2.40" height="2.40" fill="#666" stroke="none" stroke-width="1" />
<rect x="241.80" y="114.80" width="2.40" height="2.40" fill="#666" stroke="none" stroke-width="1" />
<rect x="250.80" y="111.80" width="2.40" height="2.40" fill="#666" stroke="none" stroke-width="1" />
<rect x="258.80" y="111.80" width="2.40" height="2.40" fill="#666" stroke="none" stroke-width="1" />
<rect x="262.80" y="111.80" width="2.40" height="2.40" fill="#666" stroke="none" stroke-width="1" />
<rect x="243.95" y="125.95" width="2.10" height="2.10" fill="#7a7a7a" stroke="none" stroke-width="1" />
<rect x="260.80" y="123.80" width="2.40" height="2.40" fill="#666" stroke="none" stroke-width="1" />
<rect x="201.80" y="91.80" width="2.40" height="2.40" fill="#666" stroke="none" stroke-width="1" />
<ellipse cx="259" cy="139" rx="4.5" ry="7" fill="#b8b8b8" opacity="0.85" filter="url(#b1)"/>
<line x1="201.6" y1="37.4" x2="201.6" y2="149.2" stroke="#333" stroke-width="0.9" />
<line x1="201.6" y1="149.2" x2="321" y2="149.2" stroke="#333" stroke-width="0.9" />
<line x1="321" y1="37.4" x2="321" y2="149.2" stroke="#777" stroke-width="1" />
<line x1="201.6" y1="37.4" x2="321" y2="37.4" stroke="#bbb" stroke-width="0.6" />
<line x1="230.2" y1="37.4" x2="230.2" y2="149.2" stroke="#444" stroke-width="0.9" />
<line x1="201.6" y1="124.4" x2="321" y2="124.4" stroke="#444" stroke-width="0.9" />
<line x1="201.60" y1="149.2" x2="201.60" y2="152.2" stroke="#333" stroke-width="0.6" />
<line x1="210.59" y1="149.2" x2="210.59" y2="150.7" stroke="#333" stroke-width="0.6" />
<line x1="215.84" y1="149.2" x2="215.84" y2="150.7" stroke="#333" stroke-width="0.6" />
<line x1="219.57" y1="149.2" x2="219.57" y2="150.7" stroke="#333" stroke-width="0.6" />
<line x1="222.46" y1="149.2" x2="222.46" y2="150.7" stroke="#333" stroke-width="0.6" />
<line x1="224.83" y1="149.2" x2="224.83" y2="150.7" stroke="#333" stroke-width="0.6" />
<line x1="226.83" y1="149.2" x2="226.83" y2="150.7" stroke="#333" stroke-width="0.6" />
<line x1="228.56" y1="149.2" x2="228.56" y2="150.7" stroke="#333" stroke-width="0.6" />
<line x1="230.08" y1="149.2" x2="230.08" y2="150.7" stroke="#333" stroke-width="0.6" />
<line x1="231.45" y1="149.2" x2="231.45" y2="152.2" stroke="#333" stroke-width="0.6" />
<line x1="240.44" y1="149.2" x2="240.44" y2="150.7" stroke="#333" stroke-width="0.6" />
<line x1="245.69" y1="149.2" x2="245.69" y2="150.7" stroke="#333" stroke-width="0.6" />
<line x1="249.42" y1="149.2" x2="249.42" y2="150.7" stroke="#333" stroke-width="0.6" />
<line x1="252.31" y1="149.2" x2="252.31" y2="150.7" stroke="#333" stroke-width="0.6" />
<line x1="254.68" y1="149.2" x2="254.68" y2="150.7" stroke="#333" stroke-width="0.6" />
<line x1="256.68" y1="149.2" x2="256.68" y2="150.7" stroke="#333" stroke-width="0.6" />
<line x1="258.41" y1="149.2" x2="258.41" y2="150.7" stroke="#333" stroke-width="0.6" />
<line x1="259.93" y1="149.2" x2="259.93" y2="150.7" stroke="#333" stroke-width="0.6" />
<line x1="261.30" y1="149.2" x2="261.30" y2="152.2" stroke="#333" stroke-width="0.6" />
<line x1="270.29" y1="149.2" x2="270.29" y2="150.7" stroke="#333" stroke-width="0.6" />
<line x1="275.54" y1="149.2" x2="275.54" y2="150.7" stroke="#333" stroke-width="0.6" />
<line x1="279.27" y1="149.2" x2="279.27" y2="150.7" stroke="#333" stroke-width="0.6" />
<line x1="282.16" y1="149.2" x2="282.16" y2="150.7" stroke="#333" stroke-width="0.6" />
<line x1="284.53" y1="149.2" x2="284.53" y2="150.7" stroke="#333" stroke-width="0.6" />
<line x1="286.53" y1="149.2" x2="286.53" y2="150.7" stroke="#333" stroke-width="0.6" />
<line x1="288.26" y1="149.2" x2="288.26" y2="150.7" stroke="#333" stroke-width="0.6" />
<line x1="289.78" y1="149.2" x2="289.78" y2="150.7" stroke="#333" stroke-width="0.6" />
<line x1="291.15" y1="149.2" x2="291.15" y2="152.2" stroke="#333" stroke-width="0.6" />
<line x1="300.14" y1="149.2" x2="300.14" y2="150.7" stroke="#333" stroke-width="0.6" />
<line x1="305.39" y1="149.2" x2="305.39" y2="150.7" stroke="#333" stroke-width="0.6" />
<line x1="309.12" y1="149.2" x2="309.12" y2="150.7" stroke="#333" stroke-width="0.6" />
<line x1="312.01" y1="149.2" x2="312.01" y2="150.7" stroke="#333" stroke-width="0.6" />
<line x1="314.38" y1="149.2" x2="314.38" y2="150.7" stroke="#333" stroke-width="0.6" />
<line x1="316.38" y1="149.2" x2="316.38" y2="150.7" stroke="#333" stroke-width="0.6" />
<line x1="318.11" y1="149.2" x2="318.11" y2="150.7" stroke="#333" stroke-width="0.6" />
<line x1="319.63" y1="149.2" x2="319.63" y2="150.7" stroke="#333" stroke-width="0.6" />
<line x1="321.0" y1="149.2" x2="321.0" y2="152.2" stroke="#333" stroke-width="0.6" />
<line x1="198.6" y1="149.20" x2="201.6" y2="149.20" stroke="#333" stroke-width="0.6" />
<line x1="200.1" y1="140.79" x2="201.6" y2="140.79" stroke="#333" stroke-width="0.6" />
<line x1="200.1" y1="135.86" x2="201.6" y2="135.86" stroke="#333" stroke-width="0.6" />
<line x1="200.1" y1="132.37" x2="201.6" y2="132.37" stroke="#333" stroke-width="0.6" />
<line x1="200.1" y1="129.66" x2="201.6" y2="129.66" stroke="#333" stroke-width="0.6" />
<line x1="200.1" y1="127.45" x2="201.6" y2="127.45" stroke="#333" stroke-width="0.6" />
<line x1="200.1" y1="125.58" x2="201.6" y2="125.58" stroke="#333" stroke-width="0.6" />
<line x1="200.1" y1="123.96" x2="201.6" y2="123.96" stroke="#333" stroke-width="0.6" />
<line x1="200.1" y1="122.53" x2="201.6" y2="122.53" stroke="#333" stroke-width="0.6" />
<line x1="198.6" y1="121.25" x2="201.6" y2="121.25" stroke="#333" stroke-width="0.6" />
<line x1="200.1" y1="112.84" x2="201.6" y2="112.84" stroke="#333" stroke-width="0.6" />
<line x1="200.1" y1="107.91" x2="201.6" y2="107.91" stroke="#333" stroke-width="0.6" />
<line x1="200.1" y1="104.42" x2="201.6" y2="104.42" stroke="#333" stroke-width="0.6" />
<line x1="200.1" y1="101.71" x2="201.6" y2="101.71" stroke="#333" stroke-width="0.6" />
<line x1="200.1" y1="99.50" x2="201.6" y2="99.50" stroke="#333" stroke-width="0.6" />
<line x1="200.1" y1="97.63" x2="201.6" y2="97.63" stroke="#333" stroke-width="0.6" />
<line x1="200.1" y1="96.01" x2="201.6" y2="96.01" stroke="#333" stroke-width="0.6" />
<line x1="200.1" y1="94.58" x2="201.6" y2="94.58" stroke="#333" stroke-width="0.6" />
<line x1="198.6" y1="93.30" x2="201.6" y2="93.30" stroke="#333" stroke-width="0.6" />
<line x1="200.1" y1="84.89" x2="201.6" y2="84.89" stroke="#333" stroke-width="0.6" />
<line x1="200.1" y1="79.96" x2="201.6" y2="79.96" stroke="#333" stroke-width="0.6" />
<line x1="200.1" y1="76.47" x2="201.6" y2="76.47" stroke="#333" stroke-width="0.6" />
<line x1="200.1" y1="73.76" x2="201.6" y2="73.76" stroke="#333" stroke-width="0.6" />
<line x1="200.1" y1="71.55" x2="201.6" y2="71.55" stroke="#333" stroke-width="0.6" />
<line x1="200.1" y1="69.68" x2="201.6" y2="69.68" stroke="#333" stroke-width="0.6" />
<line x1="200.1" y1="68.06" x2="201.6" y2="68.06" stroke="#333" stroke-width="0.6" />
<line x1="200.1" y1="66.63" x2="201.6" y2="66.63" stroke="#333" stroke-width="0.6" />
<line x1="198.6" y1="65.35" x2="201.6" y2="65.35" stroke="#333" stroke-width="0.6" />
<line x1="200.1" y1="56.94" x2="201.6" y2="56.94" stroke="#333" stroke-width="0.6" />
<line x1="200.1" y1="52.01" x2="201.6" y2="52.01" stroke="#333" stroke-width="0.6" />
<line x1="200.1" y1="48.52" x2="201.6" y2="48.52" stroke="#333" stroke-width="0.6" />
<line x1="200.1" y1="45.81" x2="201.6" y2="45.81" stroke="#333" stroke-width="0.6" />
<line x1="200.1" y1="43.60" x2="201.6" y2="43.60" stroke="#333" stroke-width="0.6" />
<line x1="200.1" y1="41.73" x2="201.6" y2="41.73" stroke="#333" stroke-width="0.6" />
<line x1="200.1" y1="40.11" x2="201.6" y2="40.11" stroke="#333" stroke-width="0.6" />
<line x1="200.1" y1="38.68" x2="201.6" y2="38.68" stroke="#333" stroke-width="0.6" />
<line x1="198.6" y1="37.400000000000006" x2="201.6" y2="37.400000000000006" stroke="#333" stroke-width="0.6" />
<text x="207.4" y="35" font-size="10" font-weight="bold" text-anchor="start" fill="#111" textLength="71.5" lengthAdjust="spacingAndGlyphs" stroke="#111" stroke-width="0.3" >ADULT BLOOD</text>
<line x1="207" y1="36.4" x2="279" y2="36.4" stroke="#111" stroke-width="1.1" />
<text x="285.6" y="34.6" font-size="10" font-weight="bold" text-anchor="start" fill="#111" textLength="35.4" lengthAdjust="spacingAndGlyphs" stroke="#111" stroke-width="0.3" >BRIGHT</text>
<text x="207" y="52.6" font-size="8" font-weight="bold" text-anchor="start" fill="#111" textLength="11.4" lengthAdjust="spacingAndGlyphs" stroke="#111" stroke-width="0.3" >1%</text>
<text x="289" y="52.8" font-size="8" font-weight="bold" text-anchor="start" fill="#111" textLength="12" lengthAdjust="spacingAndGlyphs" stroke="#111" stroke-width="0.3" >5%</text>
<text x="207" y="141.4" font-size="8" font-weight="bold" text-anchor="start" fill="#111" textLength="11.4" lengthAdjust="spacingAndGlyphs" stroke="#111" stroke-width="0.3" >8%</text>
<text x="289" y="141.4" font-size="8" font-weight="bold" text-anchor="start" fill="#111" textLength="17" lengthAdjust="spacingAndGlyphs" stroke="#111" stroke-width="0.3" >86%</text>
<text x="195.8" y="167" font-size="9.6" font-weight="bold" fill="#222" stroke="#222" stroke-width="0.25">10<tspan dy="-5.4" font-size="7.2">0</tspan></text>
<text x="225.6" y="167" font-size="9.6" font-weight="bold" fill="#222" stroke="#222" stroke-width="0.25">10<tspan dy="-5.4" font-size="7.2">1</tspan></text>
<text x="255.5" y="167" font-size="9.6" font-weight="bold" fill="#222" stroke="#222" stroke-width="0.25">10<tspan dy="-5.4" font-size="7.2">2</tspan></text>
<text x="285.3" y="167" font-size="9.6" font-weight="bold" fill="#222" stroke="#222" stroke-width="0.25">10<tspan dy="-5.4" font-size="7.2">3</tspan></text>
<text x="315.2" y="167" font-size="9.6" font-weight="bold" fill="#222" stroke="#222" stroke-width="0.25">10<tspan dy="-5.4" font-size="7.2">4</tspan></text>
<text x="195.6" y="157.2" font-size="9.6" font-weight="bold" fill="#222" stroke="#222" stroke-width="0.25" transform="rotate(-90 195.6 157.2)">10<tspan dy="-5.4" font-size="7.2">0</tspan></text>
<text x="195.6" y="129.2" font-size="9.6" font-weight="bold" fill="#222" stroke="#222" stroke-width="0.25" transform="rotate(-90 195.6 129.2)">10<tspan dy="-5.4" font-size="7.2">1</tspan></text>
<text x="195.6" y="101.3" font-size="9.6" font-weight="bold" fill="#222" stroke="#222" stroke-width="0.25" transform="rotate(-90 195.6 101.3)">10<tspan dy="-5.4" font-size="7.2">2</tspan></text>
<text x="195.6" y="73.3" font-size="9.6" font-weight="bold" fill="#222" stroke="#222" stroke-width="0.25" transform="rotate(-90 195.6 73.3)">10<tspan dy="-5.4" font-size="7.2">3</tspan></text>
<text x="195.6" y="45.4" font-size="9.6" font-weight="bold" fill="#222" stroke="#222" stroke-width="0.25" transform="rotate(-90 195.6 45.4)">10<tspan dy="-5.4" font-size="7.2">4</tspan></text>
<text x="232.2" y="175.2" font-size="10" font-weight="bold" text-anchor="start" fill="#111" textLength="56" lengthAdjust="spacingAndGlyphs" stroke="#111" stroke-width="0.3" >NK2Ga PE-H</text>
<text x="181.6" y="122.2" font-size="10" font-weight="bold" text-anchor="start" fill="#111" textLength="56" lengthAdjust="spacingAndGlyphs" transform="rotate(-90 181.6 122.2)" stroke="#111" stroke-width="0.3" >KIR FITC-H</text>
<polygon points="375.0,152.0 375.0,94.1 377.0,95.8 379.0,95.6 381.0,95.0 383.0,94.8 385.0,95.5 387.0,95.0 389.0,96.1 391.0,95.7 393.0,95.2 395.0,95.8 397.0,93.7 399.0,95.5 401.0,95.8 403.0,95.5 403.5,96.2 403.5,152.0" fill="#424242"/>
<polygon points="403.5,129.0 403.5,99.4 405.5,97.8 407.5,97.7 409.5,99.4 411.5,100.3 413.5,98.7 415.5,98.9 417.5,97.7 419.5,97.7 421.5,99.1 423.5,98.3 425.5,98.3 427.5,98.9 429.5,97.8 431.5,100.2 433.5,100.1 435.5,97.9 437.5,99.1 439.5,99.7 441.5,98.9 442.9,100.0 443.0,102.0 441.2,104.0 442.8,106.0 441.2,108.0 442.4,110.0 441.9,112.0 443.0,114.0 440.7,116.0 443.2,118.0 441.4,120.0 440.6,122.0 442.4,124.0 441.1,126.0 442.3,128.0 442.0,129.0" fill="#424242"/>
<polygon points="403.5,152.0 403.5,128.4 405.5,128.6 407.5,128.6 409.5,128.5 411.5,128.4 413.5,128.5 415.5,128.5 417.5,128.7 419.5,128.3 421.5,128.4 423.5,128.5 425.5,128.6 427.5,128.4 429.5,128.5 431.5,128.6 433.5,128.7 435.5,128.5 437.5,128.4 439.5,128.3 441.5,128.5 443.5,128.4 445.5,128.3 446.0,129.5 447.6,131.5 447.6,133.5 445.6,135.5 447.3,137.5 447.4,139.5 444.6,141.5 444.7,143.5 446.8,145.5 445.2,147.5 445.6,149.5 446.3,151.5 446.0,152.0" fill="#424242"/>
<path d="M377.0,98.7 L379.0,98.1 L381.0,97.9 L383.0,98.3 L385.0,98.5 L387.0,99.1 L389.0,98.3 L391.0,98.0 L393.0,99.2 L395.0,98.8 L397.0,98.3 L399.0,98.9 L401.0,98.4 L401.8,98.5 L401.4,100.5 L401.7,102.5 L401.7,104.5 L401.7,106.5 L401.8,108.5 L402.7,110.5 L401.5,112.5 L401.2,114.5 L402.4,116.5 L401.6,118.5 L401.3,120.5 L401.8,122.5 L402.6,124.5 L402.0,125.3 L400.0,126.7 L398.0,126.4 L396.0,126.6 L394.0,125.6 L392.0,125.3 L390.0,126.3 L388.0,126.2 L386.0,125.4 L384.0,126.8 L382.0,125.9 L380.0,125.7 L378.0,126.4 L377.5,126.0 L376.9,124.0 L376.2,122.0 L377.4,120.0 L376.8,118.0 L377.6,116.0 L377.1,114.0 L376.5,112.0 L376.3,110.0 L377.7,108.0 L376.9,106.0 L377.2,104.0 L376.4,102.0 L377.6,100.0Z" fill="#696969" filter="url(#b2)"/>
<path d="M405.0,102.5 L407.0,103.2 L409.0,102.6 L411.0,102.0 L413.0,102.4 L415.0,102.2 L417.0,102.1 L419.0,102.9 L421.0,102.7 L423.0,102.3 L425.0,102.1 L427.0,102.5 L429.0,102.8 L431.0,101.9 L433.0,102.7 L435.0,101.8 L437.0,102.5 L439.0,103.0 L440.1,102.5 L439.9,104.5 L439.7,106.5 L440.4,108.5 L439.9,110.5 L440.1,112.5 L439.6,114.5 L439.5,116.5 L440.1,118.5 L439.7,120.5 L439.8,122.5 L440.5,124.5 L440.0,125.5 L438.0,125.2 L436.0,126.6 L434.0,125.8 L432.0,126.4 L430.0,125.5 L428.0,125.6 L426.0,126.4 L424.0,126.0 L422.0,126.1 L420.0,125.8 L418.0,126.3 L416.0,126.0 L414.0,126.5 L412.0,126.6 L410.0,125.3 L408.0,126.6 L406.0,125.8 L405.2,126.0 L404.9,124.0 L404.7,122.0 L405.5,120.0 L405.7,118.0 L404.4,116.0 L404.9,114.0 L405.4,112.0 L405.5,110.0 L405.7,108.0 L405.0,106.0 L404.3,104.0Z" fill="#666" filter="url(#b2)"/>
<path d="M377.0,129.7 L379.0,129.7 L381.0,129.0 L383.0,128.9 L385.0,128.9 L387.0,129.5 L389.0,128.6 L391.0,128.4 L393.0,129.8 L395.0,128.4 L397.0,129.5 L399.0,129.3 L401.0,129.6 L402.6,129.0 L401.3,131.0 L402.4,133.0 L401.2,135.0 L401.4,137.0 L402.1,139.0 L401.3,141.0 L402.3,143.0 L402.7,145.0 L402.2,147.0 L402.0,149.0 L402.0,150.4 L400.0,150.9 L398.0,149.9 L396.0,150.2 L394.0,151.2 L392.0,150.0 L390.0,150.1 L388.0,151.0 L386.0,149.7 L384.0,150.6 L382.0,151.3 L380.0,150.1 L378.0,150.2 L377.5,150.5 L376.6,148.5 L377.0,146.5 L377.1,144.5 L376.2,142.5 L376.9,140.5 L377.2,138.5 L376.3,136.5 L376.5,134.5 L377.6,132.5 L377.2,130.5Z" fill="#666" filter="url(#b2)"/>
<path d="M405.0,128.3 L407.0,128.6 L409.0,128.9 L411.0,128.8 L413.0,129.0 L415.0,129.3 L417.0,129.3 L419.0,128.8 L421.0,128.8 L423.0,128.2 L425.0,128.7 L427.0,129.6 L429.0,128.3 L431.0,129.0 L433.0,128.5 L435.0,129.4 L437.0,128.5 L439.0,128.9 L441.0,128.6 L443.0,129.6 L443.4,129.0 L444.2,131.0 L444.2,133.0 L444.6,135.0 L444.0,137.0 L444.7,139.0 L443.3,141.0 L444.2,143.0 L444.7,145.0 L443.3,147.0 L443.2,149.0 L444.0,150.7 L442.0,150.4 L440.0,150.8 L438.0,150.0 L436.0,150.4 L434.0,150.8 L432.0,150.2 L430.0,149.9 L428.0,149.8 L426.0,150.0 L424.0,150.0 L422.0,150.7 L420.0,150.5 L418.0,150.4 L416.0,150.2 L414.0,150.9 L412.0,151.0 L410.0,151.3 L408.0,150.4 L406.0,149.9 L404.3,150.5 L404.3,148.5 L404.9,146.5 L405.6,144.5 L405.1,142.5 L405.4,140.5 L404.8,138.5 L405.4,136.5 L404.7,134.5 L405.5,132.5 L404.3,130.5Z" fill="#696969" filter="url(#b2)"/>
<rect x="423.25" y="108.98" width="1.50" height="1.50" fill="#4a4a4a" stroke="none" stroke-width="1" />
<rect x="412.28" y="121.76" width="1.50" height="1.50" fill="#4a4a4a" stroke="none" stroke-width="1" />
<rect x="397.66" y="136.60" width="1.50" height="1.50" fill="#4a4a4a" stroke="none" stroke-width="1" />
<rect x="407.79" y="131.21" width="1.50" height="1.50" fill="#4a4a4a" stroke="none" stroke-width="1" />
<rect x="392.62" y="130.90" width="1.50" height="1.50" fill="#4a4a4a" stroke="none" stroke-width="1" />
<rect x="403.12" y="118.15" width="1.50" height="1.50" fill="#4a4a4a" stroke="none" stroke-width="1" />
<rect x="407.09" y="139.97" width="1.50" height="1.50" fill="#4a4a4a" stroke="none" stroke-width="1" />
<rect x="380.15" y="108.94" width="1.50" height="1.50" fill="#4a4a4a" stroke="none" stroke-width="1" />
<rect x="380.21" y="129.89" width="1.50" height="1.50" fill="#4a4a4a" stroke="none" stroke-width="1" />
<rect x="400.32" y="116.08" width="1.50" height="1.50" fill="#4a4a4a" stroke="none" stroke-width="1" />
<rect x="439.90" y="101.22" width="1.50" height="1.50" fill="#4a4a4a" stroke="none" stroke-width="1" />
<rect x="426.01" y="134.17" width="1.50" height="1.50" fill="#4a4a4a" stroke="none" stroke-width="1" />
<rect x="437.92" y="114.17" width="1.50" height="1.50" fill="#4a4a4a" stroke="none" stroke-width="1" />
<rect x="424.35" y="129.37" width="1.50" height="1.50" fill="#4a4a4a" stroke="none" stroke-width="1" />
<rect x="429.98" y="147.27" width="1.50" height="1.50" fill="#4a4a4a" stroke="none" stroke-width="1" />
<rect x="380.38" y="141.13" width="1.50" height="1.50" fill="#4a4a4a" stroke="none" stroke-width="1" />
<rect x="383.19" y="135.49" width="1.50" height="1.50" fill="#4a4a4a" stroke="none" stroke-width="1" />
<rect x="407.20" y="138.59" width="1.50" height="1.50" fill="#4a4a4a" stroke="none" stroke-width="1" />
<rect x="428.92" y="145.59" width="1.50" height="1.50" fill="#4a4a4a" stroke="none" stroke-width="1" />
<rect x="430.59" y="105.77" width="1.50" height="1.50" fill="#4a4a4a" stroke="none" stroke-width="1" />
<rect x="409.27" y="99.44" width="1.50" height="1.50" fill="#4a4a4a" stroke="none" stroke-width="1" />
<rect x="438.38" y="114.47" width="1.50" height="1.50" fill="#4a4a4a" stroke="none" stroke-width="1" />
<rect x="422.37" y="106.72" width="1.50" height="1.50" fill="#4a4a4a" stroke="none" stroke-width="1" />
<rect x="391.82" y="142.92" width="1.50" height="1.50" fill="#4a4a4a" stroke="none" stroke-width="1" />
<rect x="406.87" y="138.98" width="1.50" height="1.50" fill="#4a4a4a" stroke="none" stroke-width="1" />
<rect x="415.91" y="125.11" width="1.50" height="1.50" fill="#4a4a4a" stroke="none" stroke-width="1" />
<rect x="402.24" y="107.16" width="1.50" height="1.50" fill="#4a4a4a" stroke="none" stroke-width="1" />
<rect x="403.32" y="132.13" width="1.50" height="1.50" fill="#4a4a4a" stroke="none" stroke-width="1" />
<rect x="408.27" y="126.78" width="1.50" height="1.50" fill="#4a4a4a" stroke="none" stroke-width="1" />
<rect x="386.77" y="120.75" width="1.50" height="1.50" fill="#4a4a4a" stroke="none" stroke-width="1" />
<rect x="383.05" y="102.68" width="1.50" height="1.50" fill="#4a4a4a" stroke="none" stroke-width="1" />
<rect x="417.85" y="109.63" width="1.50" height="1.50" fill="#4a4a4a" stroke="none" stroke-width="1" />
<rect x="404.21" y="149.41" width="1.50" height="1.50" fill="#4a4a4a" stroke="none" stroke-width="1" />
<rect x="441.13" y="107.83" width="1.50" height="1.50" fill="#4a4a4a" stroke="none" stroke-width="1" />
<rect x="384.91" y="122.51" width="1.50" height="1.50" fill="#4a4a4a" stroke="none" stroke-width="1" />
<rect x="435.71" y="110.98" width="1.50" height="1.50" fill="#4a4a4a" stroke="none" stroke-width="1" />
<rect x="412.08" y="138.47" width="1.50" height="1.50" fill="#4a4a4a" stroke="none" stroke-width="1" />
<rect x="426.89" y="138.77" width="1.50" height="1.50" fill="#4a4a4a" stroke="none" stroke-width="1" />
<rect x="395.69" y="113.25" width="1.50" height="1.50" fill="#4a4a4a" stroke="none" stroke-width="1" />
<rect x="393.93" y="111.96" width="1.50" height="1.50" fill="#4a4a4a" stroke="none" stroke-width="1" />
<rect x="393.44" y="121.41" width="1.50" height="1.50" fill="#4a4a4a" stroke="none" stroke-width="1" />
<rect x="388.44" y="111.01" width="1.50" height="1.50" fill="#4a4a4a" stroke="none" stroke-width="1" />
<rect x="394.85" y="145.29" width="1.50" height="1.50" fill="#4a4a4a" stroke="none" stroke-width="1" />
<rect x="388.61" y="102.31" width="1.50" height="1.50" fill="#4a4a4a" stroke="none" stroke-width="1" />
<rect x="392.86" y="111.54" width="1.50" height="1.50" fill="#4a4a4a" stroke="none" stroke-width="1" />
<rect x="411.26" y="132.13" width="1.50" height="1.50" fill="#4a4a4a" stroke="none" stroke-width="1" />
<rect x="382.74" y="122.66" width="1.50" height="1.50" fill="#4a4a4a" stroke="none" stroke-width="1" />
<rect x="378.48" y="99.23" width="1.50" height="1.50" fill="#4a4a4a" stroke="none" stroke-width="1" />
<rect x="435.15" y="110.79" width="1.50" height="1.50" fill="#4a4a4a" stroke="none" stroke-width="1" />
<rect x="406.04" y="118.07" width="1.50" height="1.50" fill="#4a4a4a" stroke="none" stroke-width="1" />
<rect x="434.75" y="110.88" width="1.50" height="1.50" fill="#4a4a4a" stroke="none" stroke-width="1" />
<rect x="379.38" y="129.63" width="1.50" height="1.50" fill="#4a4a4a" stroke="none" stroke-width="1" />
<rect x="431.47" y="108.90" width="1.50" height="1.50" fill="#4a4a4a" stroke="none" stroke-width="1" />
<rect x="381.03" y="125.15" width="1.50" height="1.50" fill="#4a4a4a" stroke="none" stroke-width="1" />
<rect x="387.91" y="129.76" width="1.50" height="1.50" fill="#4a4a4a" stroke="none" stroke-width="1" />
<rect x="427.92" y="132.90" width="1.50" height="1.50" fill="#4a4a4a" stroke="none" stroke-width="1" />
<rect x="376.42" y="131.51" width="1.50" height="1.50" fill="#4a4a4a" stroke="none" stroke-width="1" />
<rect x="423.55" y="116.83" width="1.50" height="1.50" fill="#4a4a4a" stroke="none" stroke-width="1" />
<rect x="378.51" y="116.34" width="1.50" height="1.50" fill="#4a4a4a" stroke="none" stroke-width="1" />
<rect x="378.96" y="149.99" width="1.50" height="1.50" fill="#4a4a4a" stroke="none" stroke-width="1" />
<rect x="378.56" y="136.34" width="1.50" height="1.50" fill="#4a4a4a" stroke="none" stroke-width="1" />
<rect x="437.23" y="140.55" width="1.50" height="1.50" fill="#4a4a4a" stroke="none" stroke-width="1" />
<rect x="430.86" y="119.86" width="1.50" height="1.50" fill="#4a4a4a" stroke="none" stroke-width="1" />
<rect x="400.91" y="130.67" width="1.50" height="1.50" fill="#4a4a4a" stroke="none" stroke-width="1" />
<rect x="381.22" y="100.60" width="1.50" height="1.50" fill="#4a4a4a" stroke="none" stroke-width="1" />
<rect x="409.21" y="123.66" width="1.50" height="1.50" fill="#4a4a4a" stroke="none" stroke-width="1" />
<rect x="403.35" y="139.59" width="1.50" height="1.50" fill="#4a4a4a" stroke="none" stroke-width="1" />
<rect x="420.49" y="106.88" width="1.50" height="1.50" fill="#4a4a4a" stroke="none" stroke-width="1" />
<rect x="411.78" y="132.31" width="1.50" height="1.50" fill="#4a4a4a" stroke="none" stroke-width="1" />
<rect x="402.65" y="112.83" width="1.50" height="1.50" fill="#4a4a4a" stroke="none" stroke-width="1" />
<path d="M399.0,112.5 L396.8,115.2 L394.4,117.0 L391.5,117.1 L391.0,121.3 L388.0,122.5 L385.5,119.7 L384.6,117.0 L380.0,118.0 L378.5,115.5 L378.8,112.5 L380.6,110.2 L381.6,108.1 L381.7,104.2 L385.5,105.2 L388.0,106.3 L390.0,106.8 L391.6,107.7 L395.1,107.6 L395.3,110.2Z" fill="#9a9a9a" filter="url(#b2)"/>
<path d="M439.0,140.2 L433.8,141.3 L432.2,142.3 L430.9,143.3 L430.6,145.8 L426.2,145.0 L422.6,145.6 L418.0,146.1 L415.1,144.7 L416.1,142.5 L413.6,141.5 L414.5,140.2 L414.9,139.0 L416.7,138.1 L416.9,136.5 L418.5,134.8 L422.4,134.2 L426.6,134.1 L429.1,136.0 L434.3,135.5 L432.1,138.2 L439.5,138.4Z" fill="#9a9a9a" filter="url(#b2)"/>
<rect x="379.90" y="91.40" width="2.20" height="2.20" fill="#222" stroke="none" stroke-width="1" />
<rect x="394.90" y="88.70" width="2.20" height="2.20" fill="#222" stroke="none" stroke-width="1" />
<rect x="397.90" y="92.90" width="2.20" height="2.20" fill="#222" stroke="none" stroke-width="1" />
<rect x="384.90" y="93.40" width="2.20" height="2.20" fill="#222" stroke="none" stroke-width="1" />
<rect x="390.90" y="92.40" width="2.20" height="2.20" fill="#222" stroke="none" stroke-width="1" />
<rect x="407.90" y="95.90" width="2.20" height="2.20" fill="#222" stroke="none" stroke-width="1" />
<rect x="410.90" y="96.90" width="2.20" height="2.20" fill="#222" stroke="none" stroke-width="1" />
<rect x="423.90" y="95.90" width="2.20" height="2.20" fill="#222" stroke="none" stroke-width="1" />
<rect x="432.90" y="94.40" width="2.20" height="2.20" fill="#222" stroke="none" stroke-width="1" />
<rect x="435.90" y="94.90" width="2.20" height="2.20" fill="#222" stroke="none" stroke-width="1" />
<rect x="438.90" y="96.90" width="2.20" height="2.20" fill="#222" stroke="none" stroke-width="1" />
<rect x="443.90" y="101.90" width="2.20" height="2.20" fill="#222" stroke="none" stroke-width="1" />
<rect x="443.90" y="107.40" width="2.20" height="2.20" fill="#222" stroke="none" stroke-width="1" />
<rect x="447.40" y="136.40" width="2.20" height="2.20" fill="#222" stroke="none" stroke-width="1" />
<rect x="445.40" y="129.90" width="2.20" height="2.20" fill="#222" stroke="none" stroke-width="1" />
<rect x="445.90" y="141.90" width="2.20" height="2.20" fill="#222" stroke="none" stroke-width="1" />
<rect x="444.40" y="146.40" width="2.20" height="2.20" fill="#222" stroke="none" stroke-width="1" />
<rect x="440.40" y="99.90" width="2.20" height="2.20" fill="#222" stroke="none" stroke-width="1" />
<rect x="403.40" y="95.40" width="2.20" height="2.20" fill="#222" stroke="none" stroke-width="1" />
<rect x="376.90" y="93.90" width="2.20" height="2.20" fill="#222" stroke="none" stroke-width="1" />
<rect x="407.00" y="101.00" width="2.00" height="2.20" fill="#fff" stroke="none" stroke-width="1" />
<rect x="413.00" y="100.50" width="2.00" height="2.20" fill="#fff" stroke="none" stroke-width="1" />
<rect x="418.00" y="101.00" width="2.00" height="2.20" fill="#fff" stroke="none" stroke-width="1" />
<rect x="429.00" y="99.00" width="2.00" height="2.20" fill="#fff" stroke="none" stroke-width="1" />
<rect x="432.00" y="103.00" width="2.00" height="2.20" fill="#fff" stroke="none" stroke-width="1" />
<rect x="403.20" y="127.50" width="2.00" height="2.20" fill="#fff" stroke="none" stroke-width="1" />
<rect x="431.50" y="124.00" width="2.00" height="2.20" fill="#fff" stroke="none" stroke-width="1" />
<rect x="436.00" y="121.50" width="2.00" height="2.20" fill="#fff" stroke="none" stroke-width="1" />
<rect x="409.00" y="122.00" width="2.00" height="2.20" fill="#fff" stroke="none" stroke-width="1" />
<rect x="376.50" y="147.50" width="2.00" height="2.20" fill="#fff" stroke="none" stroke-width="1" />
<rect x="439.00" y="120.00" width="2.00" height="2.20" fill="#fff" stroke="none" stroke-width="1" />
<rect x="425.00" y="100.00" width="2.00" height="2.20" fill="#fff" stroke="none" stroke-width="1" />
<line x1="374.6" y1="40.4" x2="374.6" y2="152.2" stroke="#333" stroke-width="0.9" />
<line x1="374.6" y1="152.2" x2="493.4" y2="152.2" stroke="#333" stroke-width="0.9" />
<line x1="493.4" y1="44" x2="493.4" y2="152.2" stroke="#555" stroke-width="1" />
<line x1="403.4" y1="40.4" x2="403.4" y2="96" stroke="#666" stroke-width="1" />
<line x1="403.4" y1="96" x2="403.4" y2="152.2" stroke="#2a2a2a" stroke-width="1.2" />
<line x1="374.6" y1="127.4" x2="446" y2="127.4" stroke="#2a2a2a" stroke-width="1.2" />
<line x1="446" y1="127.4" x2="493.4" y2="127.4" stroke="#444" stroke-width="1" />
<line x1="374.60" y1="152.2" x2="374.60" y2="155.2" stroke="#333" stroke-width="0.6" />
<line x1="383.54" y1="152.2" x2="383.54" y2="153.7" stroke="#333" stroke-width="0.6" />
<line x1="388.77" y1="152.2" x2="388.77" y2="153.7" stroke="#333" stroke-width="0.6" />
<line x1="392.48" y1="152.2" x2="392.48" y2="153.7" stroke="#333" stroke-width="0.6" />
<line x1="395.36" y1="152.2" x2="395.36" y2="153.7" stroke="#333" stroke-width="0.6" />
<line x1="397.71" y1="152.2" x2="397.71" y2="153.7" stroke="#333" stroke-width="0.6" />
<line x1="399.70" y1="152.2" x2="399.70" y2="153.7" stroke="#333" stroke-width="0.6" />
<line x1="401.42" y1="152.2" x2="401.42" y2="153.7" stroke="#333" stroke-width="0.6" />
<line x1="402.94" y1="152.2" x2="402.94" y2="153.7" stroke="#333" stroke-width="0.6" />
<line x1="404.30" y1="152.2" x2="404.30" y2="155.2" stroke="#333" stroke-width="0.6" />
<line x1="413.24" y1="152.2" x2="413.24" y2="153.7" stroke="#333" stroke-width="0.6" />
<line x1="418.47" y1="152.2" x2="418.47" y2="153.7" stroke="#333" stroke-width="0.6" />
<line x1="422.18" y1="152.2" x2="422.18" y2="153.7" stroke="#333" stroke-width="0.6" />
<line x1="425.06" y1="152.2" x2="425.06" y2="153.7" stroke="#333" stroke-width="0.6" />
<line x1="427.41" y1="152.2" x2="427.41" y2="153.7" stroke="#333" stroke-width="0.6" />
<line x1="429.40" y1="152.2" x2="429.40" y2="153.7" stroke="#333" stroke-width="0.6" />
<line x1="431.12" y1="152.2" x2="431.12" y2="153.7" stroke="#333" stroke-width="0.6" />
<line x1="432.64" y1="152.2" x2="432.64" y2="153.7" stroke="#333" stroke-width="0.6" />
<line x1="434.00" y1="152.2" x2="434.00" y2="155.2" stroke="#333" stroke-width="0.6" />
<line x1="442.94" y1="152.2" x2="442.94" y2="153.7" stroke="#333" stroke-width="0.6" />
<line x1="448.17" y1="152.2" x2="448.17" y2="153.7" stroke="#333" stroke-width="0.6" />
<line x1="451.88" y1="152.2" x2="451.88" y2="153.7" stroke="#333" stroke-width="0.6" />
<line x1="454.76" y1="152.2" x2="454.76" y2="153.7" stroke="#333" stroke-width="0.6" />
<line x1="457.11" y1="152.2" x2="457.11" y2="153.7" stroke="#333" stroke-width="0.6" />
<line x1="459.10" y1="152.2" x2="459.10" y2="153.7" stroke="#333" stroke-width="0.6" />
<line x1="460.82" y1="152.2" x2="460.82" y2="153.7" stroke="#333" stroke-width="0.6" />
<line x1="462.34" y1="152.2" x2="462.34" y2="153.7" stroke="#333" stroke-width="0.6" />
<line x1="463.70" y1="152.2" x2="463.70" y2="155.2" stroke="#333" stroke-width="0.6" />
<line x1="472.64" y1="152.2" x2="472.64" y2="153.7" stroke="#333" stroke-width="0.6" />
<line x1="477.87" y1="152.2" x2="477.87" y2="153.7" stroke="#333" stroke-width="0.6" />
<line x1="481.58" y1="152.2" x2="481.58" y2="153.7" stroke="#333" stroke-width="0.6" />
<line x1="484.46" y1="152.2" x2="484.46" y2="153.7" stroke="#333" stroke-width="0.6" />
<line x1="486.81" y1="152.2" x2="486.81" y2="153.7" stroke="#333" stroke-width="0.6" />
<line x1="488.80" y1="152.2" x2="488.80" y2="153.7" stroke="#333" stroke-width="0.6" />
<line x1="490.52" y1="152.2" x2="490.52" y2="153.7" stroke="#333" stroke-width="0.6" />
<line x1="492.04" y1="152.2" x2="492.04" y2="153.7" stroke="#333" stroke-width="0.6" />
<line x1="493.4" y1="152.2" x2="493.4" y2="155.2" stroke="#333" stroke-width="0.6" />
<line x1="371.6" y1="152.20" x2="374.6" y2="152.20" stroke="#333" stroke-width="0.6" />
<line x1="373.1" y1="143.79" x2="374.6" y2="143.79" stroke="#333" stroke-width="0.6" />
<line x1="373.1" y1="138.86" x2="374.6" y2="138.86" stroke="#333" stroke-width="0.6" />
<line x1="373.1" y1="135.37" x2="374.6" y2="135.37" stroke="#333" stroke-width="0.6" />
<line x1="373.1" y1="132.66" x2="374.6" y2="132.66" stroke="#333" stroke-width="0.6" />
<line x1="373.1" y1="130.45" x2="374.6" y2="130.45" stroke="#333" stroke-width="0.6" />
<line x1="373.1" y1="128.58" x2="374.6" y2="128.58" stroke="#333" stroke-width="0.6" />
<line x1="373.1" y1="126.96" x2="374.6" y2="126.96" stroke="#333" stroke-width="0.6" />
<line x1="373.1" y1="125.53" x2="374.6" y2="125.53" stroke="#333" stroke-width="0.6" />
<line x1="371.6" y1="124.25" x2="374.6" y2="124.25" stroke="#333" stroke-width="0.6" />
<line x1="373.1" y1="115.84" x2="374.6" y2="115.84" stroke="#333" stroke-width="0.6" />
<line x1="373.1" y1="110.91" x2="374.6" y2="110.91" stroke="#333" stroke-width="0.6" />
<line x1="373.1" y1="107.42" x2="374.6" y2="107.42" stroke="#333" stroke-width="0.6" />
<line x1="373.1" y1="104.71" x2="374.6" y2="104.71" stroke="#333" stroke-width="0.6" />
<line x1="373.1" y1="102.50" x2="374.6" y2="102.50" stroke="#333" stroke-width="0.6" />
<line x1="373.1" y1="100.63" x2="374.6" y2="100.63" stroke="#333" stroke-width="0.6" />
<line x1="373.1" y1="99.01" x2="374.6" y2="99.01" stroke="#333" stroke-width="0.6" />
<line x1="373.1" y1="97.58" x2="374.6" y2="97.58" stroke="#333" stroke-width="0.6" />
<line x1="371.6" y1="96.30" x2="374.6" y2="96.30" stroke="#333" stroke-width="0.6" />
<line x1="373.1" y1="87.89" x2="374.6" y2="87.89" stroke="#333" stroke-width="0.6" />
<line x1="373.1" y1="82.96" x2="374.6" y2="82.96" stroke="#333" stroke-width="0.6" />
<line x1="373.1" y1="79.47" x2="374.6" y2="79.47" stroke="#333" stroke-width="0.6" />
<line x1="373.1" y1="76.76" x2="374.6" y2="76.76" stroke="#333" stroke-width="0.6" />
<line x1="373.1" y1="74.55" x2="374.6" y2="74.55" stroke="#333" stroke-width="0.6" />
<line x1="373.1" y1="72.68" x2="374.6" y2="72.68" stroke="#333" stroke-width="0.6" />
<line x1="373.1" y1="71.06" x2="374.6" y2="71.06" stroke="#333" stroke-width="0.6" />
<line x1="373.1" y1="69.63" x2="374.6" y2="69.63" stroke="#333" stroke-width="0.6" />
<line x1="371.6" y1="68.35" x2="374.6" y2="68.35" stroke="#333" stroke-width="0.6" />
<line x1="373.1" y1="59.94" x2="374.6" y2="59.94" stroke="#333" stroke-width="0.6" />
<line x1="373.1" y1="55.01" x2="374.6" y2="55.01" stroke="#333" stroke-width="0.6" />
<line x1="373.1" y1="51.52" x2="374.6" y2="51.52" stroke="#333" stroke-width="0.6" />
<line x1="373.1" y1="48.81" x2="374.6" y2="48.81" stroke="#333" stroke-width="0.6" />
<line x1="373.1" y1="46.60" x2="374.6" y2="46.60" stroke="#333" stroke-width="0.6" />
<line x1="373.1" y1="44.73" x2="374.6" y2="44.73" stroke="#333" stroke-width="0.6" />
<line x1="373.1" y1="43.11" x2="374.6" y2="43.11" stroke="#333" stroke-width="0.6" />
<line x1="373.1" y1="41.68" x2="374.6" y2="41.68" stroke="#333" stroke-width="0.6" />
<line x1="371.6" y1="40.400000000000006" x2="374.6" y2="40.400000000000006" stroke="#333" stroke-width="0.6" />
<text x="380" y="38" font-size="10" font-weight="bold" text-anchor="start" fill="#111" textLength="72" lengthAdjust="spacingAndGlyphs" stroke="#111" stroke-width="0.3" >ADULT BLOOD</text>
<line x1="374.6" y1="40.2" x2="453.6" y2="40.2" stroke="#111" stroke-width="1.2" />
<text x="460" y="38" font-size="10" font-weight="bold" text-anchor="start" fill="#111" textLength="17.4" lengthAdjust="spacingAndGlyphs" stroke="#111" stroke-width="0.3" >DIM</text>
<text x="379" y="52.6" font-size="8" font-weight="bold" text-anchor="start" fill="#111" textLength="17.4" lengthAdjust="spacingAndGlyphs" stroke="#111" stroke-width="0.3" >42%</text>
<text x="462" y="52.6" font-size="8" font-weight="bold" text-anchor="start" fill="#111" textLength="17.2" lengthAdjust="spacingAndGlyphs" stroke="#111" stroke-width="0.3" >12%</text>
<text x="379" y="142" font-size="8" font-weight="bold" text-anchor="start" fill="#111" textLength="17.2" lengthAdjust="spacingAndGlyphs" stroke="#111" stroke-width="0.3" >16%</text>
<text x="462" y="141.4" font-size="8" font-weight="bold" text-anchor="start" fill="#111" textLength="17.2" lengthAdjust="spacingAndGlyphs" stroke="#111" stroke-width="0.3" >30%</text>
<text x="366.6" y="170" font-size="9.6" font-weight="bold" fill="#222" stroke="#222" stroke-width="0.25">10<tspan dy="-5.4" font-size="7.2">0</tspan></text>
<text x="396.3" y="170" font-size="9.6" font-weight="bold" fill="#222" stroke="#222" stroke-width="0.25">10<tspan dy="-5.4" font-size="7.2">1</tspan></text>
<text x="426.0" y="170" font-size="9.6" font-weight="bold" fill="#222" stroke="#222" stroke-width="0.25">10<tspan dy="-5.4" font-size="7.2">2</tspan></text>
<text x="455.7" y="170" font-size="9.6" font-weight="bold" fill="#222" stroke="#222" stroke-width="0.25">10<tspan dy="-5.4" font-size="7.2">3</tspan></text>
<text x="485.4" y="170" font-size="9.6" font-weight="bold" fill="#222" stroke="#222" stroke-width="0.25">10<tspan dy="-5.4" font-size="7.2">4</tspan></text>
<text x="368.8" y="160.2" font-size="9.6" font-weight="bold" fill="#222" stroke="#222" stroke-width="0.25" transform="rotate(-90 368.8 160.2)">10<tspan dy="-5.4" font-size="7.2">0</tspan></text>
<text x="368.8" y="132.2" font-size="9.6" font-weight="bold" fill="#222" stroke="#222" stroke-width="0.25" transform="rotate(-90 368.8 132.2)">10<tspan dy="-5.4" font-size="7.2">1</tspan></text>
<text x="368.8" y="104.3" font-size="9.6" font-weight="bold" fill="#222" stroke="#222" stroke-width="0.25" transform="rotate(-90 368.8 104.3)">10<tspan dy="-5.4" font-size="7.2">2</tspan></text>
<text x="368.8" y="76.3" font-size="9.6" font-weight="bold" fill="#222" stroke="#222" stroke-width="0.25" transform="rotate(-90 368.8 76.3)">10<tspan dy="-5.4" font-size="7.2">3</tspan></text>
<text x="368.8" y="48.4" font-size="9.6" font-weight="bold" fill="#222" stroke="#222" stroke-width="0.25" transform="rotate(-90 368.8 48.4)">10<tspan dy="-5.4" font-size="7.2">4</tspan></text>
<text x="403.4" y="179.4" font-size="10" font-weight="bold" text-anchor="start" fill="#111" textLength="58" lengthAdjust="spacingAndGlyphs" stroke="#111" stroke-width="0.3" >NK2Ga PE-H</text>
<text x="354.6" y="125.2" font-size="10" font-weight="bold" text-anchor="start" fill="#111" textLength="56" lengthAdjust="spacingAndGlyphs" transform="rotate(-90 354.6 125.2)" stroke="#111" stroke-width="0.3" >KIR FITC-H</text>
<line x1="29.2" y1="244" x2="29.2" y2="399.4" stroke="#222" stroke-width="1.1" />
<line x1="29.2" y1="399.4" x2="145" y2="399.4" stroke="#222" stroke-width="1.1" />
<line x1="87.4" y1="399.4" x2="87.4" y2="404" stroke="#222" stroke-width="1" />
<line x1="145" y1="399.4" x2="145" y2="404" stroke="#222" stroke-width="1" />
<line x1="27.6" y1="399.4" x2="29.2" y2="399.4" stroke="#222" stroke-width="0.8" />
<text x="26.6" y="409" font-size="10.6" font-weight="normal" text-anchor="end" fill="#111" font-family='"DejaVu Sans", "Liberation Sans", sans-serif' stroke="#222" stroke-width="0.22" >0</text>
<line x1="27.6" y1="360.79999999999995" x2="29.2" y2="360.79999999999995" stroke="#222" stroke-width="0.8" />
<text x="26.6" y="369.6" font-size="10.6" font-weight="normal" text-anchor="end" fill="#111" font-family='"DejaVu Sans", "Liberation Sans", sans-serif' stroke="#222" stroke-width="0.22" >1</text>
<line x1="27.6" y1="322.2" x2="29.2" y2="322.2" stroke="#222" stroke-width="0.8" />
<text x="26.6" y="329.6" font-size="10.6" font-weight="normal" text-anchor="end" fill="#111" font-family='"DejaVu Sans", "Liberation Sans", sans-serif' stroke="#222" stroke-width="0.22" >2</text>
<line x1="27.6" y1="283.59999999999997" x2="29.2" y2="283.59999999999997" stroke="#222" stroke-width="0.8" />
<text x="26.6" y="290" font-size="10.6" font-weight="normal" text-anchor="end" fill="#111" font-family='"DejaVu Sans", "Liberation Sans", sans-serif' stroke="#222" stroke-width="0.22" >3</text>
<line x1="27.6" y1="244.99999999999997" x2="29.2" y2="244.99999999999997" stroke="#222" stroke-width="0.8" />
<text x="26.6" y="251.4" font-size="10.6" font-weight="normal" text-anchor="end" fill="#111" font-family='"DejaVu Sans", "Liberation Sans", sans-serif' stroke="#222" stroke-width="0.22" >4</text>
<line x1="51.6" y1="392" x2="51.6" y2="395.6" stroke="#151515" stroke-width="1.05" />
<line x1="49.0" y1="392" x2="54.2" y2="392" stroke="#151515" stroke-width="1.2" />
<line x1="73.6" y1="304.4" x2="73.6" y2="341" stroke="#151515" stroke-width="1.05" />
<line x1="71.0" y1="304.4" x2="76.19999999999999" y2="304.4" stroke="#151515" stroke-width="1.2" />
<rect x="37.00" y="398.60" width="9.40" height="0.80" fill="#000" stroke="#111" stroke-width="0.9" />
<rect x="46.40" y="395.60" width="10.60" height="3.80" fill="url(#str)" stroke="#111" stroke-width="0.9" />
<rect x="57.00" y="360.60" width="10.60" height="38.80" fill="url(#hat)" stroke="#111" stroke-width="0.9" />
<rect x="67.60" y="340.60" width="11.40" height="58.80" fill="#6e6e6e" stroke="#111" stroke-width="0.9" />
<line x1="97" y1="396.6" x2="97" y2="398" stroke="#151515" stroke-width="1.05" />
<line x1="94.8" y1="396.6" x2="99.2" y2="396.6" stroke="#151515" stroke-width="1.2" />
<line x1="107.4" y1="396.4" x2="107.4" y2="398" stroke="#151515" stroke-width="1.05" />
<line x1="105.2" y1="396.4" x2="109.60000000000001" y2="396.4" stroke="#151515" stroke-width="1.2" />
<line x1="130.4" y1="296.6" x2="130.4" y2="312" stroke="#151515" stroke-width="1.05" />
<line x1="127.80000000000001" y1="296.6" x2="133.0" y2="296.6" stroke="#151515" stroke-width="1.2" />
<rect x="92.00" y="398.20" width="10.00" height="1.20" fill="#000" stroke="#111" stroke-width="0.9" />
<rect x="102.00" y="397.60" width="11.00" height="1.80" fill="url(#str)" stroke="#111" stroke-width="0.9" />
<rect x="113.00" y="361.00" width="11.40" height="38.40" fill="url(#hat)" stroke="#111" stroke-width="0.9" />
<rect x="124.40" y="312.00" width="11.20" height="87.40" fill="#6e6e6e" stroke="#111" stroke-width="0.9" />
<text x="63" y="356.8" font-size="11" font-weight="bold" text-anchor="middle" fill="#111" stroke="#111" stroke-width="0.3" >†</text>
<text x="119.6" y="356.8" font-size="11" font-weight="bold" text-anchor="middle" fill="#111" stroke="#111" stroke-width="0.3" >†</text>
<text x="38" y="412" font-size="10.4" font-weight="normal" text-anchor="start" fill="#111" font-family='"DejaVu Sans", "Liberation Sans", sans-serif' textLength="41" lengthAdjust="spacingAndGlyphs" stroke="#222" stroke-width="0.22" >Act. KIR</text>
<text x="95" y="412" font-size="10.4" font-weight="normal" text-anchor="start" fill="#111" font-family='"DejaVu Sans", "Liberation Sans", sans-serif' textLength="45" lengthAdjust="spacingAndGlyphs" stroke="#222" stroke-width="0.22" >Inhib. KIR</text>
<text x="36" y="238.4" font-size="11.6" font-weight="bold" text-anchor="start" fill="#111" textLength="31" lengthAdjust="spacingAndGlyphs" stroke="#111" stroke-width="0.3" >vr<tspan font-style="italic">KIR</tspan></text>
<rect x="39.30" y="244.20" width="12.20" height="13.80" fill="#000" stroke="#000" stroke-width="0.6" />
<rect x="39.30" y="260.40" width="12.20" height="13.80" fill="url(#str2)" stroke="#111" stroke-width="0.9" />
<rect x="39.30" y="276.60" width="12.20" height="13.80" fill="url(#hat)" stroke="#111" stroke-width="0.9" />
<rect x="39.30" y="293.00" width="12.20" height="13.20" fill="#6e6e6e" stroke="#222" stroke-width="0.9" />
<text x="58" y="256" font-size="9.8" font-weight="normal" text-anchor="start" fill="#1a1a1a" textLength="59.8" lengthAdjust="spacingAndGlyphs" stroke="#222" stroke-width="0.22" >NKG2A- /KIR-</text>
<text x="58" y="270.4" font-size="9.8" font-weight="normal" text-anchor="start" fill="#1a1a1a" textLength="63" lengthAdjust="spacingAndGlyphs" stroke="#222" stroke-width="0.22" >NKG2A+/KIR-</text>
<text x="58" y="285" font-size="9.8" font-weight="normal" text-anchor="start" fill="#1a1a1a" textLength="64.4" lengthAdjust="spacingAndGlyphs" stroke="#222" stroke-width="0.22" >NKG2A+/KIR+</text>
<text x="58" y="302" font-size="9.8" font-weight="normal" text-anchor="start" fill="#1a1a1a" textLength="64.4" lengthAdjust="spacingAndGlyphs" stroke="#222" stroke-width="0.22" >NKG2A- /KIR+</text>
<text x="16.5" y="387.2" font-size="10" font-weight="bold" text-anchor="start" fill="#111" textLength="144.6" lengthAdjust="spacingAndGlyphs" transform="rotate(-90 16.5 387.2)" stroke="#111" stroke-width="0.3" >Relative Q-RT-PCR R KIR Ratio</text>
<line x1="170.6" y1="242" x2="170.6" y2="400.2" stroke="#222" stroke-width="1.1" />
<line x1="170.6" y1="400.2" x2="267" y2="400.2" stroke="#222" stroke-width="1.2" />
<line x1="168.6" y1="242.0" x2="170.6" y2="242.0" stroke="#222" stroke-width="0.8" />
<line x1="168.6" y1="273.6" x2="170.6" y2="273.6" stroke="#222" stroke-width="0.8" />
<line x1="168.6" y1="305.2" x2="170.6" y2="305.2" stroke="#222" stroke-width="0.8" />
<line x1="168.6" y1="336.8" x2="170.6" y2="336.8" stroke="#222" stroke-width="0.8" />
<line x1="168.6" y1="368.4" x2="170.6" y2="368.4" stroke="#222" stroke-width="0.8" />
<line x1="168.6" y1="400.0" x2="170.6" y2="400.0" stroke="#222" stroke-width="0.8" />
<line x1="187.8" y1="249.4" x2="187.8" y2="300" stroke="#151515" stroke-width="1.05" />
<line x1="184.8" y1="249.4" x2="190.8" y2="249.4" stroke="#151515" stroke-width="1.2" />
<rect x="183.70" y="299.40" width="9.40" height="100.80" fill="#fff" stroke="#111" stroke-width="0.9" />
<line x1="209" y1="392" x2="209" y2="395" stroke="#151515" stroke-width="1.05" />
<line x1="206.6" y1="392" x2="211.4" y2="392" stroke="#151515" stroke-width="1.2" />
<line x1="218.2" y1="392.2" x2="218.2" y2="394" stroke="#151515" stroke-width="1.05" />
<line x1="215.6" y1="392.2" x2="220.79999999999998" y2="392.2" stroke="#151515" stroke-width="1.2" />
<line x1="227.4" y1="382.4" x2="227.4" y2="390" stroke="#151515" stroke-width="1.05" />
<line x1="224.8" y1="382.4" x2="230.0" y2="382.4" stroke="#151515" stroke-width="1.2" />
<rect x="204.00" y="395.00" width="10.00" height="5.20" fill="#000" stroke="#111" stroke-width="0.9" />
<rect x="214.00" y="394.00" width="8.40" height="6.20" fill="url(#str)" stroke="#111" stroke-width="0.9" />
<rect x="222.40" y="390.00" width="9.60" height="10.20" fill="url(#hat)" stroke="#111" stroke-width="0.9" />
<rect x="232.00" y="399.00" width="10.00" height="1.20" fill="#6e6e6e" stroke="#111" stroke-width="0.9" />
<text x="180" y="239.4" font-size="11.6" font-weight="bold" text-anchor="start" fill="#111" font-style="italic" textLength="50" lengthAdjust="spacingAndGlyphs" stroke="#111" stroke-width="0.3" >KIR2DL4</text>
<text x="204.4" y="277.5" font-size="9.4" font-weight="bold" text-anchor="start" fill="#111" textLength="23.6" lengthAdjust="spacingAndGlyphs" stroke="#111" stroke-width="0.3" >CD56</text>
<text x="228.4" y="274.2" font-size="6" font-weight="bold" text-anchor="start" fill="#111" textLength="21.4" lengthAdjust="spacingAndGlyphs" stroke="#111" stroke-width="0.3" >+bright</text>
<line x1="204" y1="281" x2="196.8" y2="295.6" stroke="#111" stroke-width="1.4" />
<polygon points="194.1,294.4 200.2,297.9 194.1,300.2" fill="#111"/>
<text x="165.2" y="396.4" font-size="10" font-weight="bold" text-anchor="start" fill="#111" textLength="155" lengthAdjust="spacingAndGlyphs" transform="rotate(-90 165.2 396.4)" stroke="#111" stroke-width="0.3" >Relative Q-RT-PCR R Expression</text>
<line x1="271.6" y1="242" x2="271.6" y2="400.2" stroke="#222" stroke-width="1.1" />
<line x1="271.6" y1="400.2" x2="348" y2="400.2" stroke="#222" stroke-width="1.2" />
<line x1="270.4" y1="241.8" x2="271.6" y2="241.8" stroke="#444" stroke-width="0.7" />
<line x1="270.4" y1="257.64" x2="271.6" y2="257.64" stroke="#444" stroke-width="0.7" />
<line x1="270.4" y1="273.48" x2="271.6" y2="273.48" stroke="#444" stroke-width="0.7" />
<line x1="270.4" y1="289.32" x2="271.6" y2="289.32" stroke="#444" stroke-width="0.7" />
<line x1="270.4" y1="305.16" x2="271.6" y2="305.16" stroke="#444" stroke-width="0.7" />
<line x1="270.4" y1="321.0" x2="271.6" y2="321.0" stroke="#444" stroke-width="0.7" />
<line x1="270.4" y1="336.84000000000003" x2="271.6" y2="336.84000000000003" stroke="#444" stroke-width="0.7" />
<line x1="270.4" y1="352.68" x2="271.6" y2="352.68" stroke="#444" stroke-width="0.7" />
<line x1="270.4" y1="368.52" x2="271.6" y2="368.52" stroke="#444" stroke-width="0.7" />
<line x1="270.4" y1="384.36" x2="271.6" y2="384.36" stroke="#444" stroke-width="0.7" />
<line x1="305" y1="340.6" x2="305" y2="355" stroke="#151515" stroke-width="1.05" />
<line x1="302.4" y1="340.6" x2="307.6" y2="340.6" stroke="#151515" stroke-width="1.2" />
<line x1="315.2" y1="262.6" x2="315.2" y2="311" stroke="#151515" stroke-width="1.05" />
<line x1="312.4" y1="262.6" x2="318.0" y2="262.6" stroke="#151515" stroke-width="1.2" />
<rect x="291.00" y="398.00" width="9.40" height="2.20" fill="#000" stroke="#111" stroke-width="0.9" />
<rect x="300.40" y="355.00" width="9.20" height="45.20" fill="url(#str)" stroke="#111" stroke-width="0.9" />
<rect x="309.60" y="311.00" width="11.00" height="89.20" fill="url(#hat)" stroke="#111" stroke-width="0.9" />
<rect x="320.60" y="399.60" width="9.40" height="0.60" fill="#6e6e6e" stroke="#111" stroke-width="0.9" />
<text x="282" y="239" font-size="11.6" font-weight="bold" text-anchor="start" fill="#111" font-style="italic" textLength="41" lengthAdjust="spacingAndGlyphs" stroke="#111" stroke-width="0.3" >NKG2A</text>
<line x1="356.2" y1="242.6" x2="356.2" y2="400.2" stroke="#222" stroke-width="1.1" />
<line x1="356.2" y1="400.2" x2="433" y2="400.2" stroke="#222" stroke-width="1.2" />
<line x1="381" y1="311" x2="381" y2="340" stroke="#151515" stroke-width="1.05" />
<line x1="378.4" y1="311" x2="383.6" y2="311" stroke="#151515" stroke-width="1.2" />
<line x1="390" y1="380" x2="390" y2="384.4" stroke="#151515" stroke-width="1.05" />
<line x1="387.8" y1="380" x2="392.2" y2="380" stroke="#151515" stroke-width="1.2" />
<line x1="399.4" y1="246.6" x2="399.4" y2="312.4" stroke="#151515" stroke-width="1.05" />
<line x1="396.79999999999995" y1="246.6" x2="402.0" y2="246.6" stroke="#151515" stroke-width="1.2" />
<line x1="409" y1="360.4" x2="409" y2="370.4" stroke="#151515" stroke-width="1.05" />
<line x1="406.4" y1="360.4" x2="411.6" y2="360.4" stroke="#151515" stroke-width="1.2" />
<rect x="375.60" y="339.60" width="10.00" height="60.60" fill="#000" stroke="#111" stroke-width="0.9" />
<rect x="385.60" y="384.40" width="8.80" height="15.80" fill="url(#str)" stroke="#111" stroke-width="0.9" />
<rect x="394.40" y="312.40" width="10.00" height="87.80" fill="url(#hat)" stroke="#111" stroke-width="0.9" />
<rect x="404.40" y="370.40" width="9.60" height="29.80" fill="#6e6e6e" stroke="#111" stroke-width="0.9" />
<text x="364" y="238.6" font-size="11.6" font-weight="bold" text-anchor="start" fill="#111" font-style="italic" textLength="42.6" lengthAdjust="spacingAndGlyphs" stroke="#111" stroke-width="0.3" >NKG2D</text>
<line x1="441.6" y1="242.6" x2="441.6" y2="400.2" stroke="#222" stroke-width="1.1" />
<line x1="441.6" y1="400.2" x2="518" y2="400.2" stroke="#222" stroke-width="1.2" />
<line x1="440" y1="242.6" x2="441.6" y2="242.6" stroke="#222" stroke-width="0.8" />
<line x1="440" y1="282.05" x2="441.6" y2="282.05" stroke="#222" stroke-width="0.8" />
<line x1="440" y1="321.5" x2="441.6" y2="321.5" stroke="#222" stroke-width="0.8" />
<line x1="440" y1="360.95" x2="441.6" y2="360.95" stroke="#222" stroke-width="0.8" />
<line x1="440" y1="400.4" x2="441.6" y2="400.4" stroke="#222" stroke-width="0.8" />
<line x1="465.6" y1="268" x2="465.6" y2="297.4" stroke="#151515" stroke-width="1.05" />
<line x1="462.90000000000003" y1="268" x2="468.3" y2="268" stroke="#151515" stroke-width="1.2" />
<line x1="475" y1="320.8" x2="475" y2="345" stroke="#151515" stroke-width="1.05" />
<line x1="472.6" y1="320.8" x2="477.4" y2="320.8" stroke="#151515" stroke-width="1.2" />
<line x1="484.4" y1="284" x2="484.4" y2="317.2" stroke="#151515" stroke-width="1.05" />
<line x1="481.79999999999995" y1="284" x2="487.0" y2="284" stroke="#151515" stroke-width="1.2" />
<line x1="494.4" y1="299.4" x2="494.4" y2="324.4" stroke="#151515" stroke-width="1.05" />
<line x1="491.79999999999995" y1="299.4" x2="497.0" y2="299.4" stroke="#151515" stroke-width="1.2" />
<rect x="460.40" y="297.40" width="10.20" height="102.80" fill="#000" stroke="#111" stroke-width="0.9" />
<rect x="470.60" y="345.00" width="8.60" height="55.20" fill="url(#str)" stroke="#111" stroke-width="0.9" />
<rect x="479.20" y="317.20" width="10.30" height="83.00" fill="url(#hat)" stroke="#111" stroke-width="0.9" />
<rect x="489.50" y="324.40" width="10.20" height="75.80" fill="#6e6e6e" stroke="#111" stroke-width="0.9" />
<text x="448" y="239" font-size="11.6" font-weight="bold" text-anchor="start" fill="#111" font-style="italic" textLength="39.6" lengthAdjust="spacingAndGlyphs" stroke="#111" stroke-width="0.3" >NKG2E</text>
</svg>
</body></html>
